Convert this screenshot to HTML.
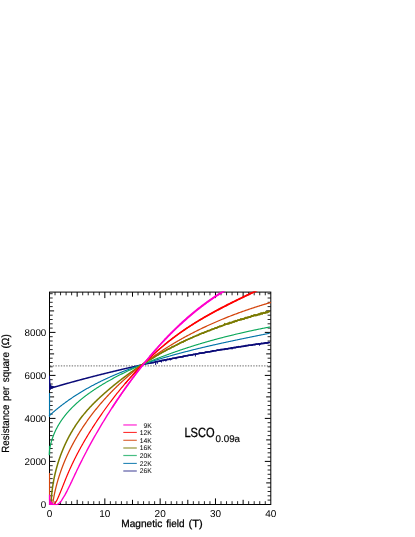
<!DOCTYPE html>
<html><head><meta charset="utf-8"><title>LSCO magnetoresistance</title>
<style>html,body{margin:0;padding:0;background:#fff;}body{width:415px;height:537px;overflow:hidden;font-family:"Liberation Sans",sans-serif;}svg{display:block;position:absolute;left:0;top:0;will-change:transform;}text{font-family:"Liberation Sans",sans-serif;fill:#000;}</style>
</head><body>
<svg width="415" height="537" viewBox="0 0 415 537">
<rect x="0" y="0" width="415" height="537" fill="#fff"/>
<defs><clipPath id="pc"><rect x="48.5" y="291.60" width="222.80" height="213.60"/></clipPath></defs>
<line x1="50.00" y1="365.9" x2="270.80" y2="365.9" stroke="#6a6a6a" stroke-width="1" stroke-dasharray="1.4 1.31"/>
<g stroke="#000" stroke-width="1" fill="none" shape-rendering="auto">
<rect x="49.50" y="292.10" width="221.30" height="212.40"/>
<path d="M77.16,504.40v-4.60M77.16,292.10v4.60M104.83,504.40v-6.00M104.83,292.10v6.00M132.49,504.40v-4.60M132.49,292.10v4.60M160.15,504.40v-6.00M160.15,292.10v6.00M187.81,504.40v-4.60M187.81,292.10v4.60M215.48,504.40v-6.00M215.48,292.10v6.00M243.14,504.40v-4.60M243.14,292.10v4.60M49.50,482.90h4.60M270.80,482.90h-4.60M49.50,461.40h6.00M270.80,461.40h-6.00M49.50,439.90h4.60M270.80,439.90h-4.60M49.50,418.40h6.00M270.80,418.40h-6.00M49.50,396.90h4.60M270.80,396.90h-4.60M49.50,375.40h6.00M270.80,375.40h-6.00M49.50,353.90h4.60M270.80,353.90h-4.60M49.50,332.40h6.00M270.80,332.40h-6.00M49.50,310.90h4.60M270.80,310.90h-4.60"/>
<path d="M55.03,504.40v-3.20M55.03,292.10v3.20M60.56,504.40v-3.20M60.56,292.10v3.20M66.10,504.40v-3.20M66.10,292.10v3.20M71.63,504.40v-3.20M71.63,292.10v3.20M82.70,504.40v-3.20M82.70,292.10v3.20M88.23,504.40v-3.20M88.23,292.10v3.20M93.76,504.40v-3.20M93.76,292.10v3.20M99.29,504.40v-3.20M99.29,292.10v3.20M110.36,504.40v-3.20M110.36,292.10v3.20M115.89,504.40v-3.20M115.89,292.10v3.20M121.42,504.40v-3.20M121.42,292.10v3.20M126.96,504.40v-3.20M126.96,292.10v3.20M138.02,504.40v-3.20M138.02,292.10v3.20M143.55,504.40v-3.20M143.55,292.10v3.20M149.09,504.40v-3.20M149.09,292.10v3.20M154.62,504.40v-3.20M154.62,292.10v3.20M165.68,504.40v-3.20M165.68,292.10v3.20M171.22,504.40v-3.20M171.22,292.10v3.20M176.75,504.40v-3.20M176.75,292.10v3.20M182.28,504.40v-3.20M182.28,292.10v3.20M193.35,504.40v-3.20M193.35,292.10v3.20M198.88,504.40v-3.20M198.88,292.10v3.20M204.41,504.40v-3.20M204.41,292.10v3.20M209.94,504.40v-3.20M209.94,292.10v3.20M221.01,504.40v-3.20M221.01,292.10v3.20M226.54,504.40v-3.20M226.54,292.10v3.20M232.07,504.40v-3.20M232.07,292.10v3.20M237.61,504.40v-3.20M237.61,292.10v3.20M248.67,504.40v-3.20M248.67,292.10v3.20M254.20,504.40v-3.20M254.20,292.10v3.20M259.74,504.40v-3.20M259.74,292.10v3.20M265.27,504.40v-3.20M265.27,292.10v3.20M49.50,500.10h3.20M270.80,500.10h-3.20M49.50,495.80h3.20M270.80,495.80h-3.20M49.50,491.50h3.20M270.80,491.50h-3.20M49.50,487.20h3.20M270.80,487.20h-3.20M49.50,478.60h3.20M270.80,478.60h-3.20M49.50,474.30h3.20M270.80,474.30h-3.20M49.50,470.00h3.20M270.80,470.00h-3.20M49.50,465.70h3.20M270.80,465.70h-3.20M49.50,457.10h3.20M270.80,457.10h-3.20M49.50,452.80h3.20M270.80,452.80h-3.20M49.50,448.50h3.20M270.80,448.50h-3.20M49.50,444.20h3.20M270.80,444.20h-3.20M49.50,435.60h3.20M270.80,435.60h-3.20M49.50,431.30h3.20M270.80,431.30h-3.20M49.50,427.00h3.20M270.80,427.00h-3.20M49.50,422.70h3.20M270.80,422.70h-3.20M49.50,414.10h3.20M270.80,414.10h-3.20M49.50,409.80h3.20M270.80,409.80h-3.20M49.50,405.50h3.20M270.80,405.50h-3.20M49.50,401.20h3.20M270.80,401.20h-3.20M49.50,392.60h3.20M270.80,392.60h-3.20M49.50,388.30h3.20M270.80,388.30h-3.20M49.50,384.00h3.20M270.80,384.00h-3.20M49.50,379.70h3.20M270.80,379.70h-3.20M49.50,371.10h3.20M270.80,371.10h-3.20M49.50,366.80h3.20M270.80,366.80h-3.20M49.50,362.50h3.20M270.80,362.50h-3.20M49.50,358.20h3.20M270.80,358.20h-3.20M49.50,349.60h3.20M270.80,349.60h-3.20M49.50,345.30h3.20M270.80,345.30h-3.20M49.50,341.00h3.20M270.80,341.00h-3.20M49.50,336.70h3.20M270.80,336.70h-3.20M49.50,328.10h3.20M270.80,328.10h-3.20M49.50,323.80h3.20M270.80,323.80h-3.20M49.50,319.50h3.20M270.80,319.50h-3.20M49.50,315.20h3.20M270.80,315.20h-3.20M49.50,306.60h3.20M270.80,306.60h-3.20M49.50,302.30h3.20M270.80,302.30h-3.20M49.50,298.00h3.20M270.80,298.00h-3.20M49.50,293.70h3.20M270.80,293.70h-3.20" stroke-width="0.85"/>
</g>
<g fill="none" stroke-linejoin="round" stroke-linecap="butt" clip-path="url(#pc)">
<path d="M49.67,388.44 L50.10,388.31 L50.54,388.18 L50.97,388.06 L51.41,387.93 L51.84,387.80 L52.27,387.68 L52.71,387.55 L53.14,387.43 L53.58,387.30 L54.01,387.17 L54.44,387.05 L54.88,386.92 L55.31,386.80 L55.75,386.67 L56.18,386.55 L56.61,386.42 L57.05,386.30 L57.48,386.17 L57.92,386.05 L58.35,385.92 L58.79,385.80 L59.22,385.67 L59.65,385.55 L60.09,385.43 L60.52,385.30 L60.96,385.18 L61.39,385.05 L61.83,384.93 L62.26,384.81 L62.70,384.69 L63.13,384.56 L63.57,384.44 L64.00,384.32 L64.44,384.20 L64.87,384.07 L65.31,383.95 L65.74,383.83 L66.18,383.71 L66.61,383.59 L67.05,383.46 L67.48,383.34 L67.92,383.22 L68.35,383.10 L68.79,382.98 L69.22,382.86 L69.66,382.74 L70.09,382.62 L70.53,382.50 L70.96,382.38 L71.40,382.26 L71.83,382.14 L72.27,382.02 L72.71,381.90 L73.14,381.78 L73.58,381.66 L74.01,381.54 L74.45,381.42 L74.88,381.31 L75.32,381.19 L75.76,381.07 L76.19,380.95 L76.63,380.83 L77.06,380.71 L77.50,380.60 L77.94,380.48 L78.37,380.36 L78.81,380.24 L79.24,380.13 L79.68,380.01 L80.12,379.89 L80.55,379.78 L80.99,379.66 L81.42,379.54 L81.86,379.43 L82.30,379.31 L82.73,379.19 L83.17,379.08 L83.61,378.96 L84.04,378.85 L84.48,378.73 L84.92,378.62 L85.35,378.50 L85.79,378.39 L86.23,378.27 L86.66,378.16 L87.10,378.04 L87.54,377.93 L87.97,377.81 L88.41,377.70 L88.85,377.58 L89.28,377.47 L89.72,377.36 L90.16,377.24 L90.60,377.13 L91.03,377.02 L91.47,376.90 L91.91,376.79 L92.34,376.68 L92.78,376.57 L93.22,376.45 L93.66,376.34 L94.09,376.23 L94.53,376.12 L94.97,376.00 L95.40,375.89 L95.84,375.78 L96.28,375.67 L96.72,375.56 L97.15,375.45 L97.59,375.34 L98.03,375.22 L98.47,375.11 L98.91,375.00 L99.34,374.89 L99.78,374.78 L100.22,374.67 L100.66,374.56 L101.09,374.45 L101.53,374.34 L101.97,374.23 L102.41,374.12 L102.85,374.01 L103.28,373.90 L103.72,373.80 L104.16,373.69 L104.60,373.58 L105.04,373.47 L105.47,373.36 L105.91,373.25 L106.35,373.14 L106.79,373.04 L107.23,372.93 L107.67,372.82 L108.10,372.71 L108.54,372.61 L108.98,372.50 L109.42,372.39 L109.86,372.28 L110.30,372.18 L110.74,372.07 L111.17,371.96 L111.61,371.86 L112.05,371.75 L112.49,371.65 L112.93,371.54 L113.37,371.43 L113.81,371.33 L114.25,371.22 L114.68,371.12 L115.12,371.01 L115.56,370.91 L116.00,370.80 L116.44,370.70 L116.88,370.59 L117.32,370.49 L117.76,370.38 L118.20,370.28 L118.64,370.17 L119.08,370.07 L119.51,369.97 L119.95,369.86 L120.39,369.76 L120.83,369.65 L121.27,369.55 L121.71,369.45 L122.15,369.35 L122.59,369.24 L123.03,369.14 L123.47,369.04 L123.91,368.93 L124.35,368.83 L124.79,368.73 L125.23,368.63 L125.67,368.53 L126.11,368.42 L126.55,368.32 L126.99,368.22 L127.43,368.12 L127.87,368.02 L128.31,367.92 L128.75,367.82 L129.19,367.72 L129.63,367.62 L130.07,367.51 L130.51,367.41 L130.95,367.31 L131.39,367.21 L131.83,367.11 L132.27,367.01 L132.71,366.91 L133.15,366.81 L133.59,366.72 L134.03,366.62 L134.47,366.52 L134.91,366.42 L135.35,366.32 L135.79,366.22 L136.23,366.12 L136.67,366.02 L137.11,365.93 L137.55,365.83 L137.99,365.73 L138.43,365.63 L138.87,365.53 L139.31,365.44 L139.75,365.34 L140.20,365.24 L140.64,365.14 L141.08,365.05 L141.52,364.95 L141.96,364.85 L142.40,364.76 L142.84,364.66 L143.28,364.56 L143.72,364.47 L144.16,364.37 L144.60,364.28 L145.05,364.18 L145.49,364.08 L145.93,363.99 L146.37,363.89 L146.81,363.80 L147.25,363.70 L147.69,363.61 L148.13,363.51 L148.58,363.42 L149.02,363.32 L149.46,363.23 L149.90,363.13 L150.34,363.04 L150.78,362.95 L151.22,362.85 L151.67,362.76 L152.11,362.66 L152.55,362.57 L152.99,362.48 L153.43,362.38 L153.87,362.29 L154.32,362.20 L154.76,362.11 L155.20,362.01 L155.64,361.92 L156.08,361.83 L156.52,361.74 L156.97,361.64 L157.41,361.55 L157.85,361.46 L158.29,361.37 L158.73,361.28 L159.18,361.19 L159.62,361.09 L160.06,361.00 L160.50,360.91 L160.94,360.82 L161.39,360.73 L161.83,360.64 L162.27,360.55 L162.71,360.46 L163.16,360.37 L163.60,360.28 L164.04,360.19 L164.48,360.10 L164.92,360.01 L165.37,359.92 L165.81,359.83 L166.25,359.74 L166.69,359.65 L167.14,359.56 L167.58,359.47 L168.02,359.38 L168.47,359.30 L168.91,359.21 L169.35,359.12 L169.79,359.03 L170.24,358.94 L170.68,358.85 L171.12,358.77 L171.56,358.68 L172.01,358.59 L172.45,358.50 L172.89,358.42 L173.34,358.33 L173.78,358.24 L174.22,358.16 L174.67,358.07 L175.11,357.98 L175.55,357.90 L175.99,357.81 L176.44,357.72 L176.88,357.64 L177.32,357.55 L177.77,357.46 L178.21,357.38 L178.65,357.29 L179.10,357.21 L179.54,357.12 L179.98,357.04 L180.43,356.95 L180.87,356.87 L181.31,356.78 L181.76,356.70 L182.20,356.61 L182.64,356.53 L183.09,356.44 L183.53,356.36 L183.98,356.28 L184.42,356.19 L184.86,356.11 L185.31,356.02 L185.75,355.94 L186.19,355.86 L186.64,355.77 L187.08,355.69 L187.53,355.61 L187.97,355.53 L188.41,355.44 L188.86,355.36 L189.30,355.28 L189.74,355.20 L190.19,355.11 L190.63,355.03 L191.08,354.95 L191.52,354.87 L191.97,354.79 L192.41,354.70 L192.85,354.62 L193.30,354.54 L193.74,354.46 L194.19,354.38 L194.63,354.30 L195.07,354.22 L195.52,354.14 L195.96,354.06 L196.41,353.98 L196.85,353.90 L197.30,353.82 L197.74,353.74 L198.19,353.66 L198.63,353.58 L199.07,353.50 L199.52,353.42 L199.96,353.34 L200.41,353.26 L200.85,353.18 L201.30,353.10 L201.74,353.02 L202.19,352.94 L202.63,352.86 L203.08,352.79 L203.52,352.71 L203.97,352.63 L204.41,352.55 L204.86,352.47 L205.30,352.39 L205.75,352.32 L206.19,352.24 L206.64,352.16 L207.08,352.08 L207.53,352.01 L207.97,351.93 L208.42,351.85 L208.86,351.78 L209.31,351.70 L209.75,351.62 L210.20,351.55 L210.64,351.47 L211.09,351.39 L211.53,351.32 L211.98,351.24 L212.42,351.17 L212.87,351.09 L213.31,351.01 L213.76,350.94 L214.20,350.86 L214.65,350.79 L215.09,350.71 L215.54,350.64 L215.99,350.56 L216.43,350.49 L216.88,350.41 L217.32,350.34 L217.77,350.27 L218.21,350.19 L218.66,350.12 L219.10,350.04 L219.55,349.97 L220.00,349.90 L220.44,349.82 L220.89,349.75 L221.33,349.68 L221.78,349.60 L222.23,349.53 L222.67,349.46 L223.12,349.38 L223.56,349.31 L224.01,349.24 L224.45,349.17 L224.90,349.09 L225.35,349.02 L225.79,348.95 L226.24,348.88 L226.69,348.81 L227.13,348.73 L227.58,348.66 L228.02,348.59 L228.47,348.52 L228.92,348.45 L229.36,348.38 L229.81,348.31 L230.25,348.24 L230.70,348.16 L231.15,348.09 L231.59,348.02 L232.04,347.95 L232.49,347.88 L232.93,347.81 L233.38,347.74 L233.83,347.67 L234.27,347.60 L234.72,347.53 L235.17,347.46 L235.61,347.39 L236.06,347.33 L236.51,347.26 L236.95,347.19 L237.40,347.12 L237.85,347.05 L238.29,346.98 L238.74,346.91 L239.19,346.84 L239.63,346.78 L240.08,346.71 L240.53,346.64 L240.97,346.57 L241.42,346.50 L241.87,346.44 L242.31,346.37 L242.76,346.30 L243.21,346.23 L243.65,346.17 L244.10,346.10 L244.55,346.03 L245.00,345.97 L245.44,345.90 L245.89,345.83 L246.34,345.77 L246.78,345.70 L247.23,345.63 L247.68,345.57 L248.12,345.50 L248.57,345.44 L249.02,345.37 L249.47,345.30 L249.91,345.24 L250.36,345.17 L250.81,345.11 L251.26,345.04 L251.70,344.98 L252.15,344.91 L252.60,344.85 L253.05,344.78 L253.49,344.72 L253.94,344.65 L254.39,344.59 L254.84,344.53 L255.28,344.46 L255.73,344.40 L256.18,344.33 L256.63,344.27 L257.07,344.21 L257.52,344.14 L257.97,344.08 L258.42,344.02 L258.86,343.95 L259.31,343.89 L259.76,343.83 L260.21,343.76 L260.66,343.70 L261.10,343.64 L261.55,343.58 L262.00,343.51 L262.45,343.45 L262.89,343.39 L263.34,343.33 L263.79,343.27 L264.24,343.20 L264.69,343.14 L265.13,343.08 L265.58,343.02 L266.03,342.96 L266.48,342.90 L266.93,342.84 L267.38,342.78 L267.82,342.71 L268.27,342.65 L268.72,342.59 L269.17,342.53 L269.62,342.47 L270.06,342.41" stroke="#0a0a78" stroke-width="1.50"/>
<path d="M150.00,362.77 L150.90,363.15 L151.80,362.68 L152.70,362.72 L153.60,362.73 L154.50,362.19 L155.40,361.97 L156.30,361.44 L157.20,361.41 L158.10,361.41 L159.00,361.36 L159.90,361.28 L160.80,360.76 L161.70,360.32 L162.60,360.31 L163.50,360.63 L164.40,359.89 L165.30,359.89 L166.20,360.10 L167.10,359.19 L168.00,359.47 L168.90,359.57 L169.80,358.81 L170.70,358.89 L171.60,359.00 L172.50,358.20 L173.40,358.34 L174.30,358.34 L175.20,358.10 L176.10,357.76 L177.00,357.38 L177.90,357.43 L178.80,357.16 L179.70,357.07 L180.60,356.81 L181.50,357.02 L182.40,356.79 L183.30,356.26 L184.20,356.29 L185.10,355.88 L186.00,355.86 L186.90,355.61 L187.80,355.68 L188.70,355.29 L189.60,355.19 L190.50,355.23 L191.40,354.82 L192.30,355.05 L193.20,354.30 L194.10,354.59 L195.00,354.17 L195.90,354.01 L196.80,354.01 L197.70,353.76 L198.60,353.51 L199.50,353.02 L200.40,352.93 L201.30,353.27 L202.20,352.96 L203.10,352.94 L204.00,352.99 L204.90,352.61 L205.80,351.95 L206.70,352.00 L207.60,352.07 L208.50,351.63 L209.40,352.06" stroke="#0a0a78" stroke-width="1.50"/>
<path d="M209.00,352.02 L209.90,351.81 L210.80,351.43 L211.70,351.49 L212.60,350.91 L213.50,350.87 L214.40,350.81 L215.30,350.82 L216.20,350.52 L217.10,350.16 L218.00,350.13 L218.90,349.97 L219.80,349.81 L220.70,349.58 L221.60,349.58 L222.50,349.45 L223.40,349.50 L224.30,349.37 L225.20,349.06 L226.10,348.88 L227.00,348.92 L227.90,348.84 L228.80,348.57 L229.70,348.50 L230.60,348.44 L231.50,347.76 L232.40,348.12 L233.30,347.62 L234.20,347.60 L235.10,347.65 L236.00,347.46 L236.90,346.98 L237.80,347.15 L238.70,346.66 L239.60,346.69 L240.50,346.83 L241.40,346.46 L242.30,346.43 L243.20,346.37 L244.10,346.29 L245.00,346.12 L245.90,345.53 L246.80,345.65 L247.70,345.54 L248.60,345.16 L249.50,345.32 L250.40,345.23 L251.30,345.23 L252.20,345.17 L253.10,344.55 L254.00,344.48 L254.90,344.61 L255.80,344.17 L256.70,344.09 L257.60,344.18 L258.50,343.81 L259.40,344.05 L260.30,343.97 L261.20,343.35 L262.10,343.52 L263.00,343.55 L263.90,343.54 L264.80,342.99 L265.70,342.81 L266.60,343.11 L267.50,343.00 L268.40,342.45 L269.30,342.48" stroke="#0a0a78" stroke-width="1.60"/>
<line x1="49.5" y1="393.0" x2="49.5" y2="417.0" stroke="#0072a8" stroke-width="1.2"/>
<path d="M48.88,416.07 L49.23,415.74 L49.59,415.41 L49.96,415.08 L50.32,414.75 L50.68,414.43 L51.04,414.11 L51.41,413.78 L51.77,413.46 L52.13,413.14 L52.50,412.82 L52.87,412.50 L53.23,412.18 L53.60,411.87 L53.97,411.55 L54.34,411.24 L54.71,410.92 L55.08,410.61 L55.45,410.30 L55.82,409.99 L56.19,409.68 L56.56,409.37 L56.94,409.07 L57.31,408.76 L57.68,408.46 L58.06,408.15 L58.43,407.85 L58.81,407.55 L59.19,407.25 L59.56,406.95 L59.94,406.65 L60.32,406.35 L60.70,406.06 L61.08,405.76 L61.46,405.47 L61.84,405.17 L62.22,404.88 L62.61,404.59 L62.99,404.30 L63.37,404.01 L63.76,403.72 L64.14,403.43 L64.53,403.15 L64.91,402.86 L65.30,402.58 L65.69,402.29 L66.07,402.01 L66.46,401.73 L66.85,401.45 L67.24,401.17 L67.63,400.89 L68.02,400.61 L68.41,400.34 L68.80,400.06 L69.19,399.78 L69.59,399.51 L69.98,399.24 L70.37,398.97 L70.77,398.70 L71.16,398.43 L71.56,398.16 L71.95,397.89 L72.35,397.62 L72.75,397.35 L73.15,397.09 L73.54,396.82 L73.94,396.56 L74.34,396.30 L74.74,396.04 L75.14,395.78 L75.54,395.52 L75.94,395.26 L76.34,395.00 L76.75,394.74 L77.15,394.49 L77.55,394.23 L77.96,393.98 L78.36,393.72 L78.77,393.47 L79.17,393.22 L79.58,392.97 L79.98,392.72 L80.39,392.47 L80.80,392.22 L81.21,391.97 L81.61,391.73 L82.02,391.48 L82.43,391.23 L82.84,390.99 L83.25,390.75 L83.66,390.51 L84.07,390.26 L84.49,390.02 L84.90,389.78 L85.31,389.54 L85.72,389.31 L86.14,389.07 L86.55,388.83 L86.96,388.60 L87.38,388.36 L87.80,388.13 L88.21,387.90 L88.63,387.66 L89.04,387.43 L89.46,387.20 L89.88,386.97 L90.30,386.74 L90.72,386.51 L91.13,386.29 L91.55,386.06 L91.97,385.84 L92.39,385.61 L92.81,385.39 L93.24,385.16 L93.66,384.94 L94.08,384.72 L94.50,384.50 L94.92,384.28 L95.35,384.06 L95.77,383.84 L96.19,383.62 L96.62,383.40 L97.04,383.19 L97.47,382.97 L97.89,382.76 L98.32,382.54 L98.75,382.33 L99.17,382.12 L99.60,381.90 L100.03,381.69 L100.46,381.48 L100.88,381.27 L101.31,381.06 L101.74,380.85 L102.17,380.65 L102.60,380.44 L103.03,380.23 L103.46,380.03 L103.89,379.82 L104.32,379.62 L104.76,379.42 L105.19,379.21 L105.62,379.01 L106.05,378.81 L106.49,378.61 L106.92,378.41 L107.35,378.21 L107.79,378.01 L108.22,377.81 L108.66,377.62 L109.09,377.42 L109.53,377.23 L109.96,377.03 L110.40,376.84 L110.84,376.64 L111.27,376.45 L111.71,376.26 L112.15,376.07 L112.59,375.87 L113.03,375.68 L113.46,375.49 L113.90,375.31 L114.34,375.12 L114.78,374.93 L115.22,374.74 L115.66,374.56 L116.10,374.37 L116.54,374.18 L116.98,374.00 L117.43,373.82 L117.87,373.63 L118.31,373.45 L118.75,373.27 L119.19,373.09 L119.64,372.90 L120.08,372.72 L120.52,372.54 L120.97,372.36 L121.41,372.19 L121.86,372.01 L122.30,371.83 L122.74,371.65 L123.19,371.48 L123.63,371.30 L124.08,371.13 L124.53,370.95 L124.97,370.78 L125.42,370.61 L125.87,370.43 L126.31,370.26 L126.76,370.09 L127.21,369.92 L127.65,369.75 L128.10,369.58 L128.55,369.41 L129.00,369.24 L129.45,369.07 L129.90,368.90 L130.35,368.74 L130.80,368.57 L131.24,368.40 L131.69,368.24 L132.14,368.07 L132.59,367.91 L133.05,367.74 L133.50,367.58 L133.95,367.42 L134.40,367.26 L134.85,367.09 L135.30,366.93 L135.75,366.77 L136.20,366.61 L136.66,366.45 L137.11,366.29 L137.56,366.13 L138.01,365.97 L138.47,365.82 L138.92,365.66 L139.37,365.50 L139.83,365.34 L140.28,365.19 L140.74,365.03 L141.19,364.88 L141.64,364.72 L142.10,364.57 L142.55,364.42 L143.01,364.26 L143.46,364.11 L143.92,363.96 L144.37,363.81 L144.83,363.65 L145.28,363.50 L145.74,363.35 L146.20,363.20 L146.65,363.05 L147.11,362.90 L147.57,362.75 L148.02,362.61 L148.48,362.46 L148.94,362.31 L149.39,362.16 L149.85,362.02 L150.31,361.87 L150.76,361.72 L151.22,361.58 L151.68,361.43 L152.14,361.29 L152.60,361.14 L153.05,361.00 L153.51,360.86 L153.97,360.71 L154.43,360.57 L154.89,360.43 L155.35,360.29 L155.80,360.15 L156.26,360.00 L156.72,359.86 L157.18,359.72 L157.64,359.58 L158.10,359.44 L158.56,359.30 L159.02,359.16 L159.48,359.03 L159.94,358.89 L160.40,358.75 L160.86,358.61 L161.32,358.47 L161.78,358.34 L162.24,358.20 L162.70,358.07 L163.16,357.93 L163.62,357.79 L164.08,357.66 L164.54,357.52 L165.00,357.39 L165.46,357.26 L165.92,357.12 L166.39,356.99 L166.85,356.86 L167.31,356.72 L167.77,356.59 L168.23,356.46 L168.69,356.33 L169.15,356.20 L169.62,356.07 L170.08,355.93 L170.54,355.80 L171.00,355.67 L171.46,355.54 L171.93,355.42 L172.39,355.29 L172.85,355.16 L173.31,355.03 L173.78,354.90 L174.24,354.77 L174.70,354.65 L175.16,354.52 L175.63,354.39 L176.09,354.27 L176.55,354.14 L177.02,354.01 L177.48,353.89 L177.94,353.76 L178.41,353.64 L178.87,353.51 L179.33,353.39 L179.80,353.27 L180.26,353.14 L180.72,353.02 L181.19,352.90 L181.65,352.77 L182.12,352.65 L182.58,352.53 L183.04,352.41 L183.51,352.28 L183.97,352.16 L184.44,352.04 L184.90,351.92 L185.36,351.80 L185.83,351.68 L186.29,351.56 L186.76,351.44 L187.22,351.32 L187.69,351.20 L188.15,351.08 L188.62,350.97 L189.08,350.85 L189.55,350.73 L190.01,350.61 L190.48,350.49 L190.94,350.38 L191.41,350.26 L191.87,350.14 L192.34,350.03 L192.80,349.91 L193.27,349.80 L193.73,349.68 L194.20,349.56 L194.67,349.45 L195.13,349.33 L195.60,349.22 L196.06,349.11 L196.53,348.99 L196.99,348.88 L197.46,348.76 L197.93,348.65 L198.39,348.54 L198.86,348.42 L199.32,348.31 L199.79,348.20 L200.26,348.09 L200.72,347.98 L201.19,347.86 L201.66,347.75 L202.12,347.64 L202.59,347.53 L203.05,347.42 L203.52,347.31 L203.99,347.20 L204.45,347.09 L204.92,346.98 L205.39,346.87 L205.85,346.76 L206.32,346.65 L206.79,346.54 L207.25,346.43 L207.72,346.32 L208.19,346.22 L208.65,346.11 L209.12,346.00 L209.59,345.89 L210.05,345.78 L210.52,345.68 L210.99,345.57 L211.46,345.46 L211.92,345.36 L212.39,345.25 L212.86,345.14 L213.32,345.04 L213.79,344.93 L214.26,344.83 L214.72,344.72 L215.19,344.62 L215.66,344.51 L216.13,344.41 L216.59,344.30 L217.06,344.20 L217.53,344.09 L217.99,343.99 L218.46,343.88 L218.93,343.78 L219.40,343.68 L219.86,343.57 L220.33,343.47 L220.80,343.37 L221.27,343.26 L221.73,343.16 L222.20,343.06 L222.67,342.96 L223.14,342.85 L223.60,342.75 L224.07,342.65 L224.54,342.55 L225.01,342.45 L225.47,342.35 L225.94,342.24 L226.41,342.14 L226.87,342.04 L227.34,341.94 L227.81,341.84 L228.28,341.74 L228.74,341.64 L229.21,341.54 L229.68,341.44 L230.15,341.34 L230.61,341.24 L231.08,341.14 L231.55,341.04 L232.02,340.94 L232.48,340.84 L232.95,340.74 L233.42,340.64 L233.89,340.54 L234.35,340.45 L234.82,340.35 L235.29,340.25 L235.75,340.15 L236.22,340.05 L236.69,339.95 L237.16,339.86 L237.62,339.76 L238.09,339.66 L238.56,339.56 L239.03,339.47 L239.49,339.37 L239.96,339.27 L240.43,339.17 L240.89,339.08 L241.36,338.98 L241.83,338.88 L242.30,338.79 L242.76,338.69 L243.23,338.59 L243.70,338.50 L244.16,338.40 L244.63,338.31 L245.10,338.21 L245.56,338.11 L246.03,338.02 L246.50,337.92 L246.97,337.83 L247.43,337.73 L247.90,337.63 L248.37,337.54 L248.83,337.44 L249.30,337.35 L249.77,337.25 L250.23,337.16 L250.70,337.06 L251.17,336.97 L251.63,336.87 L252.10,336.78 L252.57,336.68 L253.03,336.59 L253.50,336.50 L253.96,336.40 L254.43,336.31 L254.90,336.21 L255.36,336.12 L255.83,336.02 L256.30,335.93 L256.76,335.84 L257.23,335.74 L257.69,335.65 L258.16,335.55 L258.63,335.46 L259.09,335.37 L259.56,335.27 L260.02,335.18 L260.49,335.08 L260.95,334.99 L261.42,334.90 L261.89,334.80 L262.35,334.71 L262.82,334.62 L263.28,334.52 L263.75,334.43 L264.21,334.34 L264.68,334.24 L265.14,334.15 L265.61,334.06 L266.07,333.96 L266.54,333.87 L267.00,333.78 L267.47,333.69 L267.93,333.59 L268.40,333.50 L268.86,333.41 L269.33,333.31 L269.79,333.22" stroke="#0072a8" stroke-width="1.15"/>
<line x1="49.5" y1="446.0" x2="49.5" y2="455.0" stroke="#0aa85a" stroke-width="1.3"/>
<path d="M48.91,455.27 L48.96,454.69 L49.01,454.11 L49.07,453.53 L49.14,452.95 L49.20,452.38 L49.27,451.80 L49.35,451.23 L49.43,450.67 L49.52,450.10 L49.60,449.54 L49.70,448.98 L49.79,448.42 L49.90,447.86 L50.00,447.31 L50.11,446.76 L50.23,446.21 L50.34,445.66 L50.47,445.12 L50.59,444.57 L50.72,444.03 L50.86,443.50 L50.99,442.96 L51.14,442.43 L51.28,441.90 L51.43,441.37 L51.59,440.84 L51.74,440.32 L51.91,439.80 L52.07,439.28 L52.24,438.76 L52.41,438.25 L52.59,437.73 L52.77,437.22 L52.95,436.71 L53.14,436.21 L53.33,435.70 L53.53,435.20 L53.73,434.70 L53.93,434.20 L54.14,433.71 L54.35,433.21 L54.56,432.72 L54.77,432.23 L54.99,431.75 L55.22,431.26 L55.44,430.78 L55.67,430.30 L55.91,429.82 L56.14,429.34 L56.38,428.87 L56.63,428.39 L56.87,427.92 L57.12,427.46 L57.38,426.99 L57.63,426.52 L57.89,426.06 L58.16,425.60 L58.42,425.14 L58.69,424.69 L58.96,424.23 L59.24,423.78 L59.52,423.33 L59.80,422.88 L60.08,422.43 L60.37,421.99 L60.66,421.55 L60.95,421.11 L61.25,420.67 L61.55,420.23 L61.85,419.79 L62.15,419.36 L62.46,418.93 L62.77,418.50 L63.08,418.07 L63.40,417.65 L63.72,417.22 L64.04,416.80 L64.36,416.38 L64.69,415.96 L65.01,415.55 L65.35,415.13 L65.68,414.72 L66.02,414.31 L66.35,413.90 L66.70,413.49 L67.04,413.09 L67.39,412.68 L67.73,412.28 L68.09,411.88 L68.44,411.48 L68.80,411.08 L69.15,410.69 L69.51,410.30 L69.88,409.90 L70.24,409.51 L70.61,409.13 L70.98,408.74 L71.35,408.35 L71.72,407.97 L72.10,407.59 L72.48,407.21 L72.86,406.83 L73.24,406.46 L73.62,406.08 L74.01,405.71 L74.40,405.34 L74.79,404.97 L75.18,404.60 L75.58,404.23 L75.97,403.87 L76.37,403.50 L76.77,403.14 L77.17,402.78 L77.57,402.42 L77.98,402.06 L78.39,401.71 L78.79,401.35 L79.20,401.00 L79.62,400.65 L80.03,400.30 L80.45,399.95 L80.86,399.61 L81.28,399.26 L81.70,398.92 L82.12,398.57 L82.55,398.23 L82.97,397.89 L83.40,397.56 L83.82,397.22 L84.25,396.89 L84.68,396.55 L85.12,396.22 L85.55,395.89 L85.98,395.56 L86.42,395.23 L86.86,394.91 L87.29,394.58 L87.73,394.26 L88.17,393.94 L88.62,393.61 L89.06,393.30 L89.50,392.98 L89.95,392.66 L90.40,392.35 L90.84,392.03 L91.29,391.72 L91.74,391.41 L92.19,391.10 L92.64,390.79 L93.10,390.48 L93.55,390.17 L94.00,389.87 L94.46,389.56 L94.92,389.26 L95.37,388.96 L95.83,388.66 L96.29,388.36 L96.75,388.06 L97.21,387.77 L97.67,387.47 L98.13,387.18 L98.59,386.89 L99.06,386.59 L99.52,386.30 L99.98,386.02 L100.45,385.73 L100.91,385.44 L101.38,385.15 L101.84,384.87 L102.31,384.59 L102.78,384.30 L103.25,384.02 L103.71,383.74 L104.18,383.46 L104.65,383.19 L105.12,382.91 L105.59,382.63 L106.06,382.36 L106.54,382.09 L107.01,381.81 L107.48,381.54 L107.95,381.27 L108.43,381.00 L108.90,380.73 L109.38,380.47 L109.85,380.20 L110.33,379.94 L110.80,379.67 L111.28,379.41 L111.76,379.15 L112.23,378.89 L112.71,378.63 L113.19,378.37 L113.67,378.11 L114.15,377.85 L114.63,377.60 L115.11,377.34 L115.59,377.09 L116.07,376.83 L116.55,376.58 L117.03,376.33 L117.51,376.08 L118.00,375.83 L118.48,375.58 L118.96,375.34 L119.45,375.09 L119.93,374.84 L120.42,374.60 L120.90,374.35 L121.39,374.11 L121.87,373.87 L122.36,373.63 L122.85,373.39 L123.33,373.15 L123.82,372.91 L124.31,372.67 L124.80,372.44 L125.29,372.20 L125.77,371.96 L126.26,371.73 L126.75,371.50 L127.24,371.26 L127.73,371.03 L128.22,370.80 L128.72,370.57 L129.21,370.34 L129.70,370.11 L130.19,369.88 L130.68,369.66 L131.17,369.43 L131.67,369.20 L132.16,368.98 L132.65,368.75 L133.15,368.53 L133.64,368.31 L134.14,368.09 L134.63,367.86 L135.13,367.64 L135.62,367.42 L136.12,367.20 L136.61,366.99 L137.11,366.77 L137.61,366.55 L138.10,366.33 L138.60,366.12 L139.10,365.90 L139.59,365.69 L140.09,365.47 L140.59,365.26 L141.09,365.05 L141.59,364.84 L142.08,364.63 L142.58,364.41 L143.08,364.20 L143.58,363.99 L144.08,363.79 L144.58,363.58 L145.08,363.37 L145.58,363.16 L146.08,362.96 L146.58,362.75 L147.08,362.54 L147.58,362.34 L148.08,362.14 L148.58,361.93 L149.08,361.73 L149.59,361.53 L150.09,361.32 L150.59,361.12 L151.09,360.92 L151.59,360.72 L152.10,360.52 L152.60,360.32 L153.10,360.12 L153.60,359.92 L154.11,359.72 L154.61,359.53 L155.11,359.33 L155.62,359.13 L156.12,358.94 L156.62,358.74 L157.13,358.54 L157.63,358.35 L158.13,358.15 L158.64,357.96 L159.14,357.77 L159.65,357.57 L160.15,357.38 L160.65,357.19 L161.16,357.00 L161.66,356.81 L162.17,356.61 L162.67,356.42 L163.18,356.23 L163.68,356.04 L164.19,355.86 L164.70,355.67 L165.20,355.48 L165.71,355.29 L166.21,355.10 L166.72,354.92 L167.23,354.73 L167.73,354.55 L168.24,354.36 L168.75,354.18 L169.25,353.99 L169.76,353.81 L170.27,353.62 L170.77,353.44 L171.28,353.26 L171.79,353.08 L172.30,352.89 L172.80,352.71 L173.31,352.53 L173.82,352.35 L174.33,352.17 L174.84,351.99 L175.35,351.82 L175.86,351.64 L176.36,351.46 L176.87,351.28 L177.38,351.11 L177.89,350.93 L178.40,350.75 L178.91,350.58 L179.42,350.40 L179.93,350.23 L180.44,350.06 L180.95,349.88 L181.47,349.71 L181.98,349.54 L182.49,349.37 L183.00,349.19 L183.51,349.02 L184.02,348.85 L184.53,348.68 L185.05,348.51 L185.56,348.35 L186.07,348.18 L186.58,348.01 L187.10,347.84 L187.61,347.67 L188.12,347.51 L188.64,347.34 L189.15,347.18 L189.66,347.01 L190.18,346.85 L190.69,346.68 L191.21,346.52 L191.72,346.36 L192.24,346.20 L192.75,346.03 L193.27,345.87 L193.78,345.71 L194.30,345.55 L194.81,345.39 L195.33,345.23 L195.84,345.07 L196.36,344.91 L196.88,344.76 L197.39,344.60 L197.91,344.44 L198.43,344.28 L198.94,344.13 L199.46,343.97 L199.98,343.82 L200.49,343.66 L201.01,343.51 L201.53,343.35 L202.05,343.20 L202.57,343.05 L203.08,342.90 L203.60,342.74 L204.12,342.59 L204.64,342.44 L205.16,342.29 L205.68,342.14 L206.20,341.99 L206.72,341.84 L207.24,341.69 L207.76,341.55 L208.28,341.40 L208.80,341.25 L209.32,341.10 L209.84,340.96 L210.36,340.81 L210.88,340.66 L211.40,340.52 L211.92,340.38 L212.44,340.23 L212.96,340.09 L213.48,339.94 L214.01,339.80 L214.53,339.66 L215.05,339.52 L215.57,339.37 L216.09,339.23 L216.62,339.09 L217.14,338.95 L217.66,338.81 L218.18,338.67 L218.71,338.53 L219.23,338.40 L219.75,338.26 L220.28,338.12 L220.80,337.98 L221.32,337.85 L221.85,337.71 L222.37,337.57 L222.90,337.44 L223.42,337.30 L223.95,337.17 L224.47,337.03 L224.99,336.90 L225.52,336.77 L226.04,336.63 L226.57,336.50 L227.09,336.37 L227.62,336.24 L228.15,336.11 L228.67,335.98 L229.20,335.84 L229.72,335.71 L230.25,335.58 L230.78,335.46 L231.30,335.33 L231.83,335.20 L232.35,335.07 L232.88,334.94 L233.41,334.82 L233.93,334.69 L234.46,334.56 L234.99,334.44 L235.52,334.31 L236.04,334.18 L236.57,334.06 L237.10,333.94 L237.63,333.81 L238.16,333.69 L238.68,333.56 L239.21,333.44 L239.74,333.32 L240.27,333.20 L240.80,333.08 L241.33,332.95 L241.85,332.83 L242.38,332.71 L242.91,332.59 L243.44,332.47 L243.97,332.35 L244.50,332.23 L245.03,332.12 L245.56,332.00 L246.09,331.88 L246.62,331.76 L247.15,331.64 L247.68,331.53 L248.21,331.41 L248.74,331.30 L249.27,331.18 L249.80,331.06 L250.33,330.95 L250.86,330.83 L251.39,330.72 L251.92,330.61 L252.45,330.49 L252.99,330.38 L253.52,330.27 L254.05,330.16 L254.58,330.04 L255.11,329.93 L255.64,329.82 L256.17,329.71 L256.71,329.60 L257.24,329.49 L257.77,329.38 L258.30,329.27 L258.83,329.16 L259.37,329.05 L259.90,328.94 L260.43,328.84 L260.96,328.73 L261.50,328.62 L262.03,328.51 L262.56,328.41 L263.10,328.30 L263.63,328.19 L264.16,328.09 L264.70,327.98 L265.23,327.88 L265.76,327.77 L266.30,327.67 L266.83,327.56 L267.36,327.46 L267.90,327.36 L268.43,327.26 L268.97,327.15 L269.50,327.05 L270.03,326.95" stroke="#0aa85a" stroke-width="1.15"/>
<path d="M51.06,504.24 L51.08,503.62 L51.10,502.99 L51.13,502.37 L51.16,501.74 L51.19,501.11 L51.23,500.49 L51.27,499.86 L51.31,499.24 L51.35,498.61 L51.39,497.99 L51.44,497.36 L51.49,496.74 L51.54,496.11 L51.60,495.49 L51.65,494.86 L51.71,494.24 L51.78,493.61 L51.84,492.99 L51.91,492.36 L51.98,491.74 L52.05,491.12 L52.13,490.49 L52.20,489.87 L52.28,489.24 L52.37,488.62 L52.45,488.00 L52.54,487.38 L52.63,486.75 L52.72,486.13 L52.82,485.51 L52.91,484.89 L53.01,484.27 L53.12,483.65 L53.22,483.03 L53.33,482.41 L53.44,481.79 L53.55,481.17 L53.66,480.55 L53.78,479.93 L53.90,479.32 L54.02,478.70 L54.15,478.08 L54.27,477.47 L54.40,476.85 L54.54,476.23 L54.67,475.62 L54.81,475.01 L54.95,474.39 L55.09,473.78 L55.23,473.17 L55.38,472.55 L55.53,471.94 L55.68,471.33 L55.83,470.72 L55.99,470.11 L56.15,469.50 L56.31,468.89 L56.47,468.29 L56.64,467.68 L56.81,467.07 L56.98,466.47 L57.15,465.86 L57.33,465.26 L57.51,464.65 L57.69,464.05 L57.87,463.45 L58.06,462.85 L58.25,462.25 L58.44,461.65 L58.63,461.05 L58.82,460.45 L59.02,459.85 L59.22,459.26 L59.43,458.66 L59.63,458.07 L59.84,457.47 L60.05,456.88 L60.26,456.29 L60.48,455.70 L60.69,455.11 L60.91,454.52 L61.13,453.93 L61.36,453.34 L61.59,452.76 L61.81,452.17 L62.05,451.59 L62.28,451.00 L62.52,450.42 L62.76,449.84 L63.00,449.26 L63.24,448.68 L63.49,448.10 L63.74,447.52 L63.99,446.95 L64.24,446.37 L64.50,445.80 L64.75,445.23 L65.01,444.66 L65.28,444.09 L65.54,443.52 L65.81,442.95 L66.08,442.38 L66.35,441.82 L66.63,441.25 L66.90,440.69 L67.18,440.13 L67.46,439.57 L67.75,439.01 L68.04,438.45 L68.32,437.89 L68.62,437.34 L68.91,436.78 L69.21,436.23 L69.50,435.68 L69.81,435.13 L70.11,434.58 L70.41,434.03 L70.72,433.49 L71.03,432.94 L71.34,432.40 L71.66,431.86 L71.98,431.32 L72.30,430.78 L72.62,430.24 L72.94,429.70 L73.27,429.17 L73.60,428.64 L73.93,428.11 L74.26,427.58 L74.60,427.05 L74.94,426.52 L75.28,426.00 L75.62,425.47 L75.97,424.95 L76.32,424.43 L76.67,423.91 L77.02,423.39 L77.37,422.88 L77.73,422.36 L78.09,421.85 L78.45,421.34 L78.82,420.83 L79.18,420.32 L79.55,419.82 L79.92,419.32 L80.30,418.81 L80.67,418.31 L81.05,417.81 L81.43,417.32 L81.81,416.82 L82.20,416.33 L82.59,415.84 L82.98,415.35 L83.37,414.86 L83.76,414.37 L84.16,413.89 L84.56,413.41 L84.96,412.93 L85.36,412.45 L85.77,411.97 L86.18,411.50 L86.59,411.03 L87.00,410.55 L87.41,410.09 L87.83,409.62 L88.25,409.15 L88.67,408.69 L89.09,408.22 L89.51,407.76 L89.94,407.30 L90.37,406.85 L90.80,406.39 L91.23,405.94 L91.67,405.48 L92.10,405.03 L92.54,404.58 L92.98,404.13 L93.42,403.69 L93.86,403.24 L94.30,402.80 L94.75,402.35 L95.20,401.91 L95.65,401.47 L96.10,401.04 L96.55,400.60 L97.00,400.16 L97.45,399.73 L97.91,399.29 L98.37,398.86 L98.83,398.43 L99.28,398.00 L99.75,397.57 L100.21,397.15 L100.67,396.72 L101.13,396.30 L101.60,395.87 L102.07,395.45 L102.53,395.03 L103.00,394.61 L103.47,394.19 L103.94,393.77 L104.41,393.35 L104.89,392.94 L105.36,392.52 L105.83,392.11 L106.31,391.69 L106.78,391.28 L107.26,390.87 L107.74,390.46 L108.21,390.05 L108.69,389.64 L109.17,389.23 L109.65,388.82 L110.13,388.42 L110.61,388.01 L111.10,387.61 L111.58,387.21 L112.06,386.80 L112.55,386.40 L113.04,386.00 L113.52,385.60 L114.01,385.20 L114.50,384.81 L114.99,384.41 L115.47,384.02 L115.97,383.62 L116.46,383.23 L116.95,382.83 L117.44,382.44 L117.93,382.05 L118.43,381.66 L118.92,381.27 L119.42,380.88 L119.91,380.50 L120.41,380.11 L120.91,379.73 L121.41,379.34 L121.91,378.96 L122.41,378.58 L122.91,378.20 L123.41,377.82 L123.91,377.44 L124.41,377.06 L124.92,376.68 L125.42,376.30 L125.93,375.93 L126.43,375.55 L126.94,375.18 L127.44,374.81 L127.95,374.44 L128.46,374.07 L128.97,373.70 L129.48,373.33 L129.99,372.96 L130.50,372.59 L131.01,372.23 L131.52,371.86 L132.04,371.50 L132.55,371.14 L133.07,370.77 L133.58,370.41 L134.10,370.05 L134.61,369.70 L135.13,369.34 L135.65,368.98 L136.17,368.62 L136.69,368.27 L137.21,367.92 L137.73,367.56 L138.25,367.21 L138.77,366.86 L139.29,366.51 L139.81,366.16 L140.34,365.81 L140.86,365.47 L141.39,365.12 L141.91,364.78 L142.44,364.43 L142.97,364.09 L143.49,363.75 L144.02,363.41 L144.55,363.07 L145.08,362.73 L145.61,362.39 L146.14,362.05 L146.67,361.72 L147.20,361.38 L147.73,361.05 L148.27,360.71 L148.80,360.38 L149.33,360.05 L149.87,359.72 L150.40,359.39 L150.94,359.06 L151.48,358.74 L152.01,358.41 L152.55,358.09 L153.09,357.76 L153.63,357.44 L154.17,357.12 L154.71,356.80 L155.25,356.48 L155.79,356.16 L156.33,355.84 L156.87,355.52 L157.41,355.21 L157.96,354.89 L158.50,354.58 L159.05,354.26 L159.59,353.95 L160.14,353.64 L160.68,353.33 L161.23,353.02 L161.77,352.72 L162.32,352.41 L162.87,352.10 L163.42,351.80 L163.97,351.50 L164.52,351.19 L165.07,350.89 L165.62,350.59 L166.17,350.29 L166.72,349.99 L167.27,349.69 L167.83,349.40 L168.38,349.10 L168.93,348.81 L169.49,348.52 L170.04,348.22 L170.60,347.93 L171.15,347.64 L171.71,347.35 L172.27,347.06 L172.82,346.78 L173.38,346.49 L173.94,346.20 L174.50,345.92 L175.06,345.64 L175.62,345.35 L176.18,345.07 L176.74,344.79 L177.30,344.51 L177.86,344.23 L178.42,343.96 L178.98,343.68 L179.55,343.41 L180.11,343.13 L180.67,342.86 L181.24,342.58 L181.80,342.31 L182.37,342.04 L182.94,341.77 L183.50,341.50 L184.07,341.24 L184.63,340.97 L185.20,340.70 L185.77,340.44 L186.34,340.17 L186.91,339.91 L187.48,339.65 L188.05,339.39 L188.62,339.13 L189.19,338.87 L189.76,338.61 L190.33,338.35 L190.90,338.10 L191.47,337.84 L192.05,337.59 L192.62,337.33 L193.19,337.08 L193.77,336.83 L194.34,336.58 L194.92,336.33 L195.49,336.08 L196.07,335.83 L196.64,335.58 L197.22,335.34 L197.80,335.09 L198.38,334.85 L198.95,334.60 L199.53,334.36 L200.11,334.12 L200.69,333.88 L201.27,333.64 L201.85,333.40 L202.43,333.16 L203.01,332.92 L203.59,332.69 L204.17,332.45 L204.75,332.22 L205.34,331.98 L205.92,331.75 L206.50,331.52 L207.08,331.28 L207.67,331.05 L208.25,330.82 L208.84,330.60 L209.42,330.37 L210.01,330.14 L210.59,329.91 L211.18,329.69 L211.76,329.47 L212.35,329.24 L212.94,329.02 L213.52,328.80 L214.11,328.58 L214.70,328.36 L215.29,328.14 L215.88,327.92 L216.47,327.70 L217.05,327.48 L217.64,327.27 L218.23,327.05 L218.82,326.84 L219.42,326.62 L220.01,326.41 L220.60,326.20 L221.19,325.99 L221.78,325.78 L222.37,325.57 L222.97,325.36 L223.56,325.15 L224.15,324.94 L224.75,324.74 L225.34,324.53 L225.93,324.33 L226.53,324.12 L227.12,323.92 L227.72,323.72 L228.31,323.52 L228.91,323.32 L229.51,323.12 L230.10,322.92 L230.70,322.72 L231.30,322.52 L231.89,322.32 L232.49,322.13 L233.09,321.93 L233.69,321.74 L234.29,321.54 L234.89,321.35 L235.48,321.16 L236.08,320.97 L236.68,320.78 L237.28,320.59 L237.88,320.40 L238.48,320.21 L239.08,320.02 L239.69,319.84 L240.29,319.65 L240.89,319.46 L241.49,319.28 L242.09,319.09 L242.69,318.91 L243.30,318.73 L243.90,318.55 L244.50,318.37 L245.11,318.19 L245.71,318.01 L246.31,317.83 L246.92,317.65 L247.52,317.47 L248.13,317.30 L248.73,317.12 L249.34,316.94 L249.94,316.77 L250.55,316.60 L251.15,316.42 L251.76,316.25 L252.37,316.08 L252.97,315.91 L253.58,315.74 L254.19,315.57 L254.79,315.40 L255.40,315.23 L256.01,315.06 L256.62,314.89 L257.22,314.73 L257.83,314.56 L258.44,314.40 L259.05,314.23 L259.66,314.07 L260.27,313.91 L260.88,313.75 L261.49,313.58 L262.10,313.42 L262.71,313.26 L263.32,313.10 L263.93,312.94 L264.54,312.79 L265.15,312.63 L265.76,312.47 L266.37,312.31 L266.98,312.16 L267.59,312.00 L268.20,311.85 L268.82,311.70 L269.43,311.54 L270.04,311.39" stroke="#7a7a00" stroke-width="1.50"/>
<path d="M150.00,359.79 L150.90,359.33 L151.80,358.31 L152.70,358.11 L153.60,357.67 L154.50,356.95 L155.40,356.15 L156.30,355.53 L157.20,355.18 L158.10,355.02 L159.00,353.97 L159.90,353.43 L160.80,353.17 L161.70,352.45 L162.60,352.01 L163.50,351.42 L164.40,351.27 L165.30,350.90 L166.20,350.22 L167.10,349.53 L168.00,349.19 L168.90,348.89 L169.80,348.66 L170.70,348.22 L171.60,347.23 L172.50,346.60 L173.40,346.71 L174.30,346.32 L175.20,345.54 L176.10,345.30 L177.00,344.92 L177.90,344.29 L178.80,344.03 L179.70,343.00 L180.60,342.73 L181.50,342.30 L182.40,341.76 L183.30,341.89 L184.20,340.85 L185.10,340.87 L186.00,340.03 L186.90,339.82 L187.80,339.44 L188.70,338.87 L189.60,338.70 L190.50,338.30 L191.40,337.75 L192.30,337.64 L193.20,336.84 L194.10,336.47 L195.00,336.19 L195.90,335.82 L196.80,335.31 L197.70,335.43 L198.60,334.98 L199.50,334.10" stroke="#7a7a00" stroke-width="1.50"/>
<path d="M199.00,334.47 L199.90,333.97 L200.80,333.79 L201.70,333.26 L202.60,333.09 L203.50,333.10 L204.40,332.25 L205.30,332.13 L206.20,331.72 L207.10,331.51 L208.00,330.53 L208.90,330.79 L209.80,330.62 L210.70,329.97 L211.60,329.34 L212.50,329.34 L213.40,329.03 L214.30,328.65 L215.20,327.85 L216.10,328.26 L217.00,327.91 L217.90,327.11 L218.80,326.93 L219.70,326.11 L220.60,326.64 L221.50,326.16 L222.40,325.68 L223.30,325.48 L224.20,324.65 L225.10,324.44 L226.00,324.08 L226.90,324.08 L227.80,323.32 L228.70,323.74 L229.60,323.05" stroke="#7a7a00" stroke-width="1.60"/>
<path d="M229.00,323.22 L229.90,322.51 L230.80,322.91 L231.70,322.77 L232.60,322.25 L233.50,321.49 L234.40,321.85 L235.30,320.79 L236.20,321.32 L237.10,320.74 L238.00,320.11 L238.90,320.10 L239.80,319.95 L240.70,319.23 L241.60,319.66 L242.50,318.88 L243.40,319.17 L244.30,318.83 L245.20,317.68 L246.10,318.07 L247.00,317.40 L247.90,317.67 L248.80,317.15 L249.70,316.79 L250.60,317.05 L251.50,315.79 L252.40,316.14 L253.30,315.61 L254.20,315.01 L255.10,315.62 L256.00,315.14 L256.90,315.29 L257.80,314.69 L258.70,314.13 L259.60,314.67 L260.50,313.38 L261.40,313.07 L262.30,313.65 L263.20,312.98 L264.10,312.73 L265.00,313.12 L265.90,312.23 L266.80,312.67 L267.70,312.15 L268.60,311.55 L269.50,311.00" stroke="#7a7a00" stroke-width="1.80"/>
<line x1="49.5" y1="473.0" x2="49.5" y2="500.0" stroke="#d4440c" stroke-width="1.2"/>
<path d="M52.60,504.45 L52.69,503.82 L52.79,503.19 L52.89,502.57 L52.98,501.94 L53.08,501.31 L53.19,500.68 L53.29,500.06 L53.40,499.43 L53.51,498.81 L53.62,498.18 L53.74,497.56 L53.86,496.93 L53.98,496.31 L54.10,495.69 L54.22,495.07 L54.35,494.45 L54.48,493.83 L54.61,493.21 L54.74,492.59 L54.87,491.97 L55.01,491.36 L55.15,490.74 L55.29,490.12 L55.44,489.51 L55.58,488.90 L55.73,488.28 L55.88,487.67 L56.03,487.06 L56.19,486.44 L56.35,485.83 L56.51,485.22 L56.67,484.61 L56.83,484.01 L57.00,483.40 L57.16,482.79 L57.33,482.18 L57.50,481.58 L57.68,480.97 L57.85,480.37 L58.03,479.77 L58.21,479.16 L58.40,478.56 L58.58,477.96 L58.77,477.36 L58.95,476.76 L59.14,476.16 L59.34,475.56 L59.53,474.96 L59.73,474.37 L59.93,473.77 L60.13,473.17 L60.33,472.58 L60.54,471.99 L60.74,471.39 L60.95,470.80 L61.16,470.21 L61.37,469.62 L61.59,469.03 L61.81,468.44 L62.02,467.85 L62.25,467.26 L62.47,466.68 L62.69,466.09 L62.92,465.51 L63.15,464.92 L63.38,464.34 L63.61,463.75 L63.84,463.17 L64.08,462.59 L64.32,462.01 L64.56,461.43 L64.80,460.85 L65.04,460.27 L65.29,459.70 L65.54,459.12 L65.78,458.55 L66.04,457.97 L66.29,457.40 L66.54,456.82 L66.80,456.25 L67.06,455.68 L67.32,455.11 L67.58,454.54 L67.84,453.97 L68.11,453.40 L68.38,452.84 L68.65,452.27 L68.92,451.71 L69.19,451.14 L69.46,450.58 L69.74,450.01 L70.02,449.45 L70.30,448.89 L70.58,448.33 L70.86,447.77 L71.15,447.21 L71.44,446.66 L71.72,446.10 L72.01,445.54 L72.31,444.99 L72.60,444.44 L72.89,443.88 L73.19,443.33 L73.49,442.78 L73.79,442.23 L74.09,441.68 L74.40,441.13 L74.70,440.58 L75.01,440.04 L75.32,439.49 L75.63,438.95 L75.94,438.40 L76.25,437.86 L76.57,437.32 L76.88,436.78 L77.20,436.24 L77.52,435.70 L77.84,435.16 L78.17,434.62 L78.49,434.08 L78.82,433.55 L79.14,433.01 L79.47,432.48 L79.80,431.95 L80.14,431.42 L80.47,430.89 L80.81,430.36 L81.14,429.83 L81.48,429.30 L81.82,428.77 L82.16,428.25 L82.51,427.72 L82.85,427.20 L83.20,426.67 L83.54,426.15 L83.89,425.63 L84.24,425.11 L84.60,424.59 L84.95,424.07 L85.30,423.56 L85.66,423.04 L86.02,422.53 L86.38,422.01 L86.74,421.50 L87.10,420.99 L87.46,420.48 L87.83,419.97 L88.19,419.46 L88.56,418.95 L88.93,418.44 L89.30,417.94 L89.67,417.43 L90.04,416.93 L90.42,416.42 L90.79,415.92 L91.17,415.42 L91.55,414.92 L91.93,414.42 L92.31,413.92 L92.69,413.43 L93.08,412.93 L93.46,412.44 L93.85,411.94 L94.24,411.45 L94.63,410.96 L95.02,410.47 L95.41,409.98 L95.80,409.49 L96.20,409.00 L96.59,408.51 L96.99,408.03 L97.39,407.54 L97.79,407.06 L98.19,406.57 L98.59,406.09 L99.00,405.61 L99.40,405.13 L99.81,404.65 L100.21,404.17 L100.62,403.70 L101.03,403.22 L101.44,402.75 L101.86,402.27 L102.27,401.80 L102.68,401.33 L103.10,400.86 L103.52,400.39 L103.94,399.92 L104.36,399.45 L104.78,398.98 L105.20,398.52 L105.62,398.05 L106.05,397.59 L106.47,397.13 L106.90,396.66 L107.33,396.20 L107.76,395.74 L108.19,395.28 L108.62,394.83 L109.05,394.37 L109.48,393.91 L109.92,393.46 L110.36,393.01 L110.79,392.55 L111.23,392.10 L111.67,391.65 L112.11,391.20 L112.55,390.75 L113.00,390.30 L113.44,389.86 L113.89,389.41 L114.33,388.97 L114.78,388.52 L115.23,388.08 L115.68,387.64 L116.13,387.20 L116.58,386.76 L117.03,386.32 L117.49,385.88 L117.94,385.44 L118.40,385.01 L118.85,384.57 L119.31,384.14 L119.77,383.71 L120.23,383.28 L120.69,382.85 L121.15,382.42 L121.62,381.99 L122.08,381.56 L122.55,381.13 L123.01,380.71 L123.48,380.28 L123.95,379.86 L124.42,379.44 L124.89,379.02 L125.36,378.60 L125.83,378.18 L126.30,377.76 L126.78,377.34 L127.25,376.92 L127.73,376.51 L128.21,376.09 L128.69,375.68 L129.16,375.27 L129.64,374.86 L130.12,374.45 L130.61,374.04 L131.09,373.63 L131.57,373.22 L132.06,372.82 L132.54,372.41 L133.03,372.01 L133.52,371.60 L134.00,371.20 L134.49,370.80 L134.98,370.40 L135.47,370.00 L135.97,369.60 L136.46,369.21 L136.95,368.81 L137.45,368.42 L137.94,368.02 L138.44,367.63 L138.93,367.24 L139.43,366.85 L139.93,366.46 L140.43,366.07 L140.93,365.68 L141.43,365.29 L141.93,364.91 L142.44,364.52 L142.94,364.14 L143.44,363.75 L143.95,363.37 L144.46,362.99 L144.96,362.61 L145.47,362.23 L145.98,361.86 L146.49,361.48 L147.00,361.10 L147.51,360.73 L148.02,360.36 L148.53,359.98 L149.04,359.61 L149.56,359.24 L150.07,358.87 L150.59,358.50 L151.10,358.14 L151.62,357.77 L152.14,357.40 L152.66,357.04 L153.17,356.68 L153.69,356.31 L154.21,355.95 L154.74,355.59 L155.26,355.23 L155.78,354.88 L156.30,354.52 L156.83,354.16 L157.35,353.81 L157.88,353.45 L158.40,353.10 L158.93,352.75 L159.45,352.40 L159.98,352.05 L160.51,351.70 L161.04,351.35 L161.57,351.00 L162.10,350.66 L162.63,350.31 L163.16,349.97 L163.69,349.63 L164.23,349.28 L164.76,348.94 L165.29,348.60 L165.83,348.26 L166.36,347.93 L166.90,347.59 L167.44,347.25 L167.97,346.92 L168.51,346.59 L169.05,346.25 L169.59,345.92 L170.13,345.59 L170.67,345.26 L171.21,344.93 L171.75,344.61 L172.29,344.28 L172.83,343.96 L173.38,343.63 L173.92,343.31 L174.46,342.99 L175.01,342.66 L175.55,342.34 L176.10,342.03 L176.64,341.71 L177.19,341.39 L177.73,341.07 L178.28,340.76 L178.83,340.45 L179.38,340.13 L179.93,339.82 L180.48,339.51 L181.03,339.20 L181.58,338.89 L182.13,338.58 L182.68,338.28 L183.23,337.97 L183.78,337.67 L184.33,337.36 L184.89,337.06 L185.44,336.76 L185.99,336.46 L186.55,336.16 L187.10,335.86 L187.66,335.56 L188.21,335.27 L188.77,334.97 L189.32,334.68 L189.88,334.38 L190.44,334.09 L190.99,333.80 L191.55,333.51 L192.11,333.22 L192.67,332.93 L193.23,332.65 L193.79,332.36 L194.35,332.07 L194.91,331.79 L195.47,331.51 L196.03,331.22 L196.59,330.94 L197.15,330.66 L197.72,330.38 L198.28,330.10 L198.84,329.83 L199.41,329.55 L199.97,329.28 L200.53,329.00 L201.10,328.73 L201.66,328.46 L202.23,328.18 L202.80,327.91 L203.36,327.64 L203.93,327.37 L204.50,327.11 L205.06,326.84 L205.63,326.57 L206.20,326.31 L206.77,326.05 L207.34,325.78 L207.91,325.52 L208.48,325.26 L209.05,325.00 L209.62,324.74 L210.19,324.48 L210.76,324.23 L211.33,323.97 L211.91,323.71 L212.48,323.46 L213.05,323.21 L213.63,322.95 L214.20,322.70 L214.77,322.45 L215.35,322.20 L215.92,321.95 L216.50,321.70 L217.08,321.46 L217.65,321.21 L218.23,320.96 L218.80,320.72 L219.38,320.48 L219.96,320.23 L220.54,319.99 L221.12,319.75 L221.69,319.51 L222.27,319.27 L222.85,319.03 L223.43,318.80 L224.01,318.56 L224.59,318.32 L225.17,318.09 L225.76,317.85 L226.34,317.62 L226.92,317.39 L227.50,317.16 L228.09,316.93 L228.67,316.70 L229.25,316.47 L229.84,316.24 L230.42,316.01 L231.00,315.79 L231.59,315.56 L232.17,315.34 L232.76,315.11 L233.35,314.89 L233.93,314.67 L234.52,314.45 L235.11,314.23 L235.69,314.01 L236.28,313.79 L236.87,313.57 L237.46,313.35 L238.05,313.14 L238.63,312.92 L239.22,312.71 L239.81,312.49 L240.40,312.28 L240.99,312.07 L241.58,311.86 L242.18,311.65 L242.77,311.44 L243.36,311.23 L243.95,311.02 L244.54,310.81 L245.14,310.61 L245.73,310.40 L246.32,310.20 L246.92,309.99 L247.51,309.79 L248.10,309.59 L248.70,309.39 L249.29,309.18 L249.89,308.98 L250.48,308.78 L251.08,308.59 L251.68,308.39 L252.27,308.19 L252.87,307.99 L253.47,307.80 L254.06,307.60 L254.66,307.41 L255.26,307.22 L255.86,307.02 L256.46,306.83 L257.06,306.64 L257.66,306.45 L258.26,306.26 L258.86,306.07 L259.46,305.88 L260.06,305.70 L260.66,305.51 L261.26,305.32 L261.86,305.14 L262.46,304.95 L263.06,304.77 L263.67,304.59 L264.27,304.40 L264.87,304.22 L265.47,304.04 L266.08,303.86 L266.68,303.68 L267.29,303.50 L267.89,303.33 L268.50,303.15 L269.10,302.97 L269.71,302.80 L270.31,302.62 L270.92,302.45" stroke="#d4440c" stroke-width="1.25"/>
<path d="M53.76,504.48 L54.19,504.06 L54.59,503.61 L54.97,503.15 L55.33,502.68 L55.67,502.19 L56.00,501.68 L56.32,501.17 L56.62,500.64 L56.91,500.10 L57.19,499.56 L57.46,499.00 L57.72,498.44 L57.97,497.88 L58.22,497.32 L58.47,496.75 L58.72,496.18 L58.96,495.61 L59.20,495.04 L59.44,494.47 L59.68,493.90 L59.92,493.33 L60.16,492.76 L60.39,492.18 L60.63,491.61 L60.86,491.04 L61.09,490.47 L61.32,489.89 L61.55,489.32 L61.78,488.75 L62.01,488.18 L62.24,487.60 L62.47,487.03 L62.70,486.46 L62.93,485.88 L63.15,485.31 L63.38,484.74 L63.61,484.16 L63.84,483.59 L64.07,483.02 L64.29,482.45 L64.52,481.87 L64.75,481.30 L64.98,480.73 L65.21,480.16 L65.44,479.59 L65.67,479.01 L65.90,478.44 L66.13,477.87 L66.37,477.30 L66.60,476.73 L66.84,476.17 L67.08,475.60 L67.31,475.03 L67.55,474.46 L67.80,473.90 L68.04,473.33 L68.28,472.76 L68.53,472.20 L68.77,471.63 L69.02,471.07 L69.27,470.51 L69.52,469.94 L69.77,469.38 L70.02,468.82 L70.28,468.26 L70.53,467.70 L70.79,467.14 L71.05,466.58 L71.31,466.02 L71.57,465.46 L71.83,464.90 L72.09,464.34 L72.36,463.79 L72.62,463.23 L72.89,462.67 L73.15,462.12 L73.42,461.56 L73.69,461.01 L73.97,460.46 L74.24,459.90 L74.51,459.35 L74.79,458.80 L75.06,458.25 L75.34,457.70 L75.62,457.15 L75.90,456.60 L76.18,456.05 L76.46,455.50 L76.74,454.95 L77.03,454.40 L77.31,453.85 L77.60,453.31 L77.89,452.76 L78.17,452.22 L78.46,451.67 L78.75,451.13 L79.05,450.58 L79.34,450.04 L79.63,449.49 L79.93,448.95 L80.22,448.41 L80.52,447.87 L80.82,447.33 L81.12,446.79 L81.42,446.25 L81.72,445.71 L82.02,445.17 L82.33,444.63 L82.63,444.09 L82.94,443.56 L83.24,443.02 L83.55,442.48 L83.86,441.95 L84.17,441.41 L84.48,440.88 L84.79,440.34 L85.10,439.81 L85.42,439.28 L85.73,438.75 L86.05,438.21 L86.36,437.68 L86.68,437.15 L87.00,436.62 L87.32,436.09 L87.64,435.56 L87.96,435.03 L88.28,434.50 L88.60,433.98 L88.92,433.45 L89.25,432.92 L89.57,432.40 L89.90,431.87 L90.23,431.34 L90.55,430.82 L90.88,430.30 L91.21,429.77 L91.54,429.25 L91.88,428.73 L92.21,428.20 L92.54,427.68 L92.87,427.16 L93.21,426.64 L93.54,426.12 L93.88,425.60 L94.22,425.08 L94.56,424.56 L94.89,424.04 L95.23,423.53 L95.57,423.01 L95.92,422.49 L96.26,421.98 L96.60,421.46 L96.94,420.95 L97.29,420.43 L97.63,419.92 L97.98,419.40 L98.32,418.89 L98.67,418.38 L99.02,417.87 L99.37,417.35 L99.72,416.84 L100.07,416.33 L100.42,415.82 L100.77,415.31 L101.12,414.80 L101.47,414.30 L101.83,413.79 L102.18,413.28 L102.54,412.77 L102.89,412.27 L103.25,411.76 L103.61,411.26 L103.96,410.75 L104.32,410.25 L104.68,409.75 L105.04,409.24 L105.41,408.74 L105.77,408.24 L106.13,407.74 L106.49,407.24 L106.86,406.74 L107.22,406.24 L107.59,405.74 L107.95,405.24 L108.32,404.74 L108.69,404.25 L109.06,403.75 L109.43,403.25 L109.80,402.76 L110.17,402.26 L110.54,401.77 L110.91,401.28 L111.29,400.78 L111.66,400.29 L112.04,399.80 L112.41,399.31 L112.79,398.82 L113.17,398.33 L113.54,397.84 L113.92,397.35 L114.30,396.86 L114.68,396.38 L115.06,395.89 L115.44,395.40 L115.83,394.92 L116.21,394.43 L116.59,393.95 L116.98,393.47 L117.36,392.99 L117.75,392.50 L118.14,392.02 L118.53,391.54 L118.91,391.06 L119.30,390.58 L119.69,390.10 L120.08,389.63 L120.48,389.15 L120.87,388.67 L121.26,388.20 L121.66,387.72 L122.05,387.25 L122.45,386.77 L122.84,386.30 L123.24,385.83 L123.64,385.36 L124.04,384.89 L124.44,384.42 L124.84,383.95 L125.24,383.48 L125.64,383.01 L126.04,382.54 L126.45,382.08 L126.85,381.61 L127.26,381.15 L127.66,380.68 L128.07,380.22 L128.48,379.76 L128.88,379.30 L129.29,378.83 L129.70,378.37 L130.11,377.91 L130.53,377.46 L130.94,377.00 L131.35,376.54 L131.76,376.08 L132.18,375.63 L132.59,375.17 L133.01,374.72 L133.43,374.27 L133.85,373.81 L134.26,373.36 L134.68,372.91 L135.10,372.46 L135.52,372.01 L135.95,371.56 L136.37,371.11 L136.79,370.67 L137.22,370.22 L137.64,369.78 L138.07,369.33 L138.49,368.89 L138.92,368.44 L139.35,368.00 L139.78,367.56 L140.21,367.12 L140.64,366.68 L141.07,366.24 L141.50,365.80 L141.93,365.37 L142.37,364.93 L142.80,364.50 L143.24,364.06 L143.68,363.63 L144.11,363.20 L144.55,362.76 L144.99,362.33 L145.43,361.90 L145.87,361.47 L146.31,361.04 L146.75,360.62 L147.19,360.19 L147.64,359.77 L148.08,359.34 L148.53,358.92 L148.97,358.49 L149.42,358.07 L149.87,357.65 L150.32,357.23 L150.77,356.81 L151.22,356.39 L151.67,355.97 L152.12,355.56 L152.57,355.14 L153.03,354.73 L153.48,354.31 L153.93,353.90 L154.39,353.49 L154.85,353.08 L155.30,352.67 L155.76,352.26 L156.22,351.85 L156.68,351.44 L157.14,351.04 L157.61,350.63 L158.07,350.23 L158.53,349.82 L159.00,349.42 L159.46,349.02 L159.93,348.62 L160.39,348.22 L160.86,347.82 L161.33,347.42 L161.80,347.03 L162.27,346.63 L162.74,346.24 L163.21,345.84 L163.68,345.45 L164.16,345.06 L164.63,344.67 L165.11,344.28 L165.58,343.89 L166.06,343.50 L166.54,343.11 L167.02,342.73 L167.49,342.34 L167.97,341.96 L168.46,341.58 L168.94,341.20 L169.42,340.82 L169.90,340.44 L170.39,340.06 L170.87,339.68 L171.36,339.30 L171.85,338.93 L172.33,338.56 L172.82,338.18 L173.31,337.81 L173.80,337.44 L174.29,337.07 L174.79,336.70 L175.28,336.33 L175.77,335.97 L176.27,335.60 L176.76,335.23 L177.26,334.87 L177.76,334.51 L178.25,334.15 L178.75,333.79 L179.25,333.43 L179.75,333.07 L180.26,332.71 L180.76,332.36 L181.26,332.00 L181.77,331.65 L182.27,331.30 L182.78,330.94 L183.28,330.59 L183.79,330.24 L184.30,329.90 L184.81,329.55 L185.32,329.20 L185.83,328.86 L186.34,328.52 L186.85,328.17 L187.37,327.83 L187.88,327.49 L188.40,327.15 L188.91,326.81 L189.43,326.48 L189.95,326.14 L190.46,325.80 L190.98,325.47 L191.50,325.14 L192.02,324.81 L192.54,324.47 L193.07,324.14 L193.59,323.82 L194.11,323.49 L194.64,323.16 L195.16,322.83 L195.69,322.51 L196.21,322.18 L196.74,321.86 L197.27,321.54 L197.79,321.22 L198.32,320.90 L198.85,320.58 L199.38,320.26 L199.91,319.94 L200.44,319.63 L200.98,319.31 L201.51,318.99 L202.04,318.68 L202.58,318.37 L203.11,318.06 L203.64,317.74 L204.18,317.43 L204.72,317.12 L205.25,316.81 L205.79,316.51 L206.33,316.20 L206.86,315.89 L207.40,315.59 L207.94,315.28 L208.48,314.98 L209.02,314.68 L209.56,314.37 L210.10,314.07 L210.64,313.77 L211.19,313.47 L211.73,313.17 L212.27,312.87 L212.81,312.58 L213.36,312.28 L213.90,311.98 L214.45,311.69 L214.99,311.39 L215.54,311.10 L216.08,310.80 L216.63,310.51 L217.17,310.22 L217.72,309.93 L218.27,309.64 L218.82,309.35 L219.36,309.06 L219.91,308.77 L220.46,308.48 L221.01,308.19 L221.56,307.91 L222.11,307.62 L222.66,307.33 L223.21,307.05 L223.76,306.76 L224.31,306.48 L224.86,306.20 L225.41,305.92 L225.96,305.63 L226.51,305.35 L227.06,305.07 L227.61,304.79 L228.16,304.51 L228.72,304.23 L229.27,303.95 L229.82,303.67 L230.37,303.40 L230.93,303.12 L231.48,302.84 L232.03,302.57 L232.59,302.29 L233.14,302.02 L233.69,301.74 L234.25,301.47 L234.80,301.19 L235.35,300.92 L235.91,300.65 L236.46,300.37 L237.02,300.10 L237.57,299.83 L238.12,299.56 L238.68,299.29 L239.23,299.02 L239.79,298.75 L240.34,298.48 L240.89,298.21 L241.45,297.94 L242.00,297.67 L242.56,297.40 L243.11,297.14 L243.67,296.87 L244.22,296.60 L244.77,296.33 L245.33,296.07 L245.88,295.80 L246.44,295.54 L246.99,295.27 L247.54,295.01 L248.10,294.74 L248.65,294.48 L249.20,294.21 L249.76,293.95 L250.31,293.68 L250.86,293.42 L251.42,293.16 L251.97,292.89 L252.52,292.63 L253.08,292.37 L253.63,292.11 L254.18,291.84 L254.73,291.58 L255.28,291.32 L255.84,291.06 L256.39,290.80 L256.94,290.54 L257.49,290.28 L258.04,290.01 L258.59,289.75 L259.14,289.49 L259.69,289.23 L260.24,288.97" stroke="#ff0000" stroke-width="1.20"/>
<path d="M125.00,383.76 L125.90,382.71 L126.80,381.67 L127.70,380.64 L128.60,379.62 L129.50,378.60 L130.40,377.60 L131.30,376.60 L132.20,375.60 L133.10,374.62 L134.00,373.65 L134.90,372.68 L135.80,371.72 L136.70,370.76 L137.60,369.82 L138.50,368.88 L139.40,367.95 L140.30,367.03 L141.20,366.11 L142.10,365.20 L143.00,364.30 L143.90,363.41 L144.80,362.52 L145.70,361.64 L146.60,360.76 L147.50,359.90 L148.40,359.04 L149.30,358.19 L150.20,357.34 L151.10,356.50 L152.00,355.67 L152.90,354.84 L153.80,354.02 L154.70,353.21 L155.60,352.40 L156.50,351.60 L157.40,350.81 L158.30,350.02 L159.20,349.24 L160.10,348.47 L161.00,347.70 L161.90,346.94 L162.80,346.19 L163.70,345.44 L164.60,344.69 L165.50,343.96" stroke="#ff0000" stroke-width="1.30"/>
<path d="M165.00,344.36 L165.90,343.63 L166.80,342.90 L167.70,342.18 L168.60,341.46 L169.50,340.75 L170.40,340.05 L171.30,339.35 L172.20,338.66 L173.10,337.97 L174.00,337.29 L174.90,336.62 L175.80,335.95 L176.70,335.28 L177.60,334.62 L178.50,333.97 L179.40,333.32 L180.30,332.68 L181.20,332.05 L182.10,331.41 L183.00,330.79 L183.90,330.17 L184.80,329.56" stroke="#ff0000" stroke-width="1.50"/>
<path d="M184.00,330.10 L184.90,329.49 L185.80,328.88 L186.70,328.28 L187.60,327.68 L188.50,327.08 L189.40,326.49 L190.30,325.91 L191.20,325.33 L192.10,324.76 L193.00,324.19 L193.90,323.62 L194.80,323.06 L195.70,322.50 L196.60,321.95 L197.50,321.40 L198.40,320.85 L199.30,320.31 L200.20,319.77 L201.10,319.24 L202.00,318.71 L202.90,318.18 L203.80,317.65 L204.70,317.13" stroke="#ff0000" stroke-width="1.65"/>
<path d="M204.00,317.54 L204.90,317.02 L205.80,316.50 L206.70,315.99 L207.60,315.48 L208.50,314.97 L209.40,314.46 L210.30,313.96 L211.20,313.46 L212.10,312.97 L213.00,312.47 L213.90,311.98 L214.80,311.50 L215.70,311.01 L216.60,310.53 L217.50,310.05 L218.40,309.57 L219.30,309.09 L220.20,308.62 L221.10,308.15 L222.00,307.68 L222.90,307.21 L223.80,306.74 L224.70,306.28 L225.60,305.82 L226.50,305.36 L227.40,304.90 L228.30,304.44 L229.20,303.99 L230.10,303.53 L231.00,303.08 L231.90,302.63 L232.80,302.18 L233.70,301.74 L234.60,301.29 L235.50,300.85 L236.40,300.40 L237.30,299.96 L238.20,299.52 L239.10,299.08 L240.00,298.64 L240.90,298.21 L241.80,297.77 L242.70,297.33 L243.60,296.90 L244.50,296.47 L245.40,296.03 L246.30,295.60 L247.20,295.17 L248.10,294.74 L249.00,294.31 L249.90,293.88 L250.80,293.45 L251.70,293.02 L252.60,292.59 L253.50,292.17 L254.40,291.74 L255.30,291.31 L256.20,290.89 L257.10,290.46 L258.00,290.03 L258.90,289.61 L259.80,289.18" stroke="#ff0000" stroke-width="1.85"/>
<path d="M49.50,504.20 L56.67,504.60 L57.20,504.39 L57.70,504.15 L58.18,503.87 L58.63,503.57 L59.06,503.24 L59.47,502.88 L59.86,502.50 L60.24,502.11 L60.59,501.69 L60.94,501.26 L61.27,500.81 L61.59,500.35 L61.91,499.89 L62.21,499.41 L62.51,498.93 L62.81,498.45 L63.11,497.97 L63.40,497.49 L63.69,497.00 L63.97,496.51 L64.26,496.02 L64.54,495.53 L64.82,495.04 L65.10,494.55 L65.37,494.05 L65.64,493.56 L65.91,493.06 L66.18,492.56 L66.45,492.06 L66.71,491.56 L66.98,491.06 L67.24,490.55 L67.50,490.05 L67.76,489.54 L68.01,489.04 L68.27,488.53 L68.52,488.02 L68.77,487.51 L69.02,487.00 L69.27,486.49 L69.52,485.98 L69.77,485.47 L70.02,484.96 L70.26,484.45 L70.51,483.93 L70.75,483.42 L71.00,482.90 L71.24,482.39 L71.48,481.87 L71.73,481.36 L71.97,480.84 L72.21,480.33 L72.45,479.81 L72.69,479.29 L72.93,478.78 L73.17,478.26 L73.41,477.75 L73.66,477.23 L73.90,476.71 L74.14,476.20 L74.38,475.68 L74.62,475.17 L74.87,474.65 L75.11,474.13 L75.35,473.62 L75.60,473.10 L75.84,472.59 L76.09,472.08 L76.33,471.56 L76.58,471.05 L76.83,470.53 L77.07,470.02 L77.32,469.51 L77.57,468.99 L77.82,468.48 L78.07,467.97 L78.32,467.46 L78.57,466.95 L78.82,466.43 L79.07,465.92 L79.32,465.41 L79.58,464.90 L79.83,464.39 L80.08,463.88 L80.34,463.37 L80.59,462.86 L80.84,462.35 L81.10,461.84 L81.36,461.33 L81.61,460.82 L81.87,460.31 L82.13,459.81 L82.38,459.30 L82.64,458.79 L82.90,458.28 L83.16,457.78 L83.42,457.27 L83.68,456.76 L83.94,456.26 L84.20,455.75 L84.47,455.24 L84.73,454.74 L84.99,454.23 L85.25,453.73 L85.52,453.22 L85.78,452.72 L86.05,452.21 L86.31,451.71 L86.58,451.21 L86.84,450.70 L87.11,450.20 L87.38,449.70 L87.65,449.19 L87.91,448.69 L88.18,448.19 L88.45,447.69 L88.72,447.19 L88.99,446.68 L89.26,446.18 L89.54,445.68 L89.81,445.18 L90.08,444.68 L90.35,444.18 L90.63,443.68 L90.90,443.18 L91.17,442.68 L91.45,442.18 L91.72,441.69 L92.00,441.19 L92.28,440.69 L92.55,440.19 L92.83,439.70 L93.11,439.20 L93.39,438.70 L93.66,438.20 L93.94,437.71 L94.22,437.21 L94.50,436.72 L94.78,436.22 L95.07,435.73 L95.35,435.23 L95.63,434.74 L95.91,434.24 L96.20,433.75 L96.48,433.26 L96.76,432.76 L97.05,432.27 L97.33,431.78 L97.62,431.28 L97.91,430.79 L98.19,430.30 L98.48,429.81 L98.77,429.32 L99.06,428.83 L99.34,428.34 L99.63,427.84 L99.92,427.35 L100.21,426.86 L100.50,426.38 L100.79,425.89 L101.09,425.40 L101.38,424.91 L101.67,424.42 L101.96,423.93 L102.26,423.44 L102.55,422.96 L102.85,422.47 L103.14,421.98 L103.44,421.50 L103.73,421.01 L104.03,420.53 L104.33,420.04 L104.62,419.55 L104.92,419.07 L105.22,418.58 L105.52,418.10 L105.82,417.62 L106.12,417.13 L106.42,416.65 L106.72,416.17 L107.02,415.68 L107.32,415.20 L107.63,414.72 L107.93,414.24 L108.23,413.76 L108.54,413.27 L108.84,412.79 L109.15,412.31 L109.45,411.83 L109.76,411.35 L110.06,410.87 L110.37,410.39 L110.68,409.92 L110.99,409.44 L111.29,408.96 L111.60,408.48 L111.91,408.00 L112.22,407.53 L112.53,407.05 L112.84,406.57 L113.15,406.10 L113.47,405.62 L113.78,405.14 L114.09,404.67 L114.40,404.19 L114.72,403.72 L115.03,403.24 L115.35,402.77 L115.66,402.30 L115.98,401.82 L116.29,401.35 L116.61,400.88 L116.93,400.40 L117.24,399.93 L117.56,399.46 L117.88,398.99 L118.20,398.52 L118.52,398.05 L118.84,397.58 L119.16,397.11 L119.48,396.64 L119.80,396.17 L120.12,395.70 L120.45,395.23 L120.77,394.76 L121.09,394.29 L121.42,393.82 L121.74,393.36 L122.07,392.89 L122.39,392.42 L122.72,391.96 L123.04,391.49 L123.37,391.03 L123.70,390.56 L124.03,390.10 L124.36,389.63 L124.68,389.17 L125.01,388.70 L125.34,388.24 L125.67,387.78 L126.00,387.31 L126.34,386.85 L126.67,386.39 L127.00,385.93 L127.33,385.46 L127.67,385.00 L128.00,384.54 L128.33,384.08 L128.67,383.62 L129.00,383.16 L129.34,382.70 L129.67,382.24 L130.01,381.78 L130.35,381.33 L130.69,380.87 L131.02,380.41 L131.36,379.95 L131.70,379.50 L132.04,379.04 L132.38,378.58 L132.72,378.13 L133.06,377.67 L133.40,377.22 L133.74,376.76 L134.09,376.31 L134.43,375.85 L134.77,375.40 L135.12,374.95 L135.46,374.49 L135.81,374.04 L136.15,373.59 L136.50,373.14 L136.84,372.68 L137.19,372.23 L137.54,371.78 L137.89,371.33 L138.23,370.88 L138.58,370.43 L138.93,369.98 L139.28,369.54 L139.63,369.09 L139.98,368.64 L140.33,368.19 L140.69,367.74 L141.04,367.30 L141.39,366.85 L141.75,366.41 L142.10,365.96 L142.45,365.52 L142.81,365.07 L143.16,364.63 L143.52,364.18 L143.88,363.74 L144.23,363.30 L144.59,362.86 L144.95,362.42 L145.31,361.97 L145.67,361.53 L146.03,361.09 L146.39,360.65 L146.75,360.21 L147.11,359.77 L147.47,359.34 L147.84,358.90 L148.20,358.46 L148.56,358.02 L148.93,357.59 L149.29,357.15 L149.66,356.72 L150.02,356.28 L150.39,355.85 L150.76,355.41 L151.12,354.98 L151.49,354.55 L151.86,354.12 L152.23,353.68 L152.60,353.25 L152.97,352.82 L153.34,352.39 L153.71,351.96 L154.09,351.53 L154.46,351.10 L154.83,350.68 L155.21,350.25 L155.58,349.82 L155.96,349.39 L156.33,348.97 L156.71,348.54 L157.09,348.12 L157.46,347.69 L157.84,347.27 L158.22,346.85 L158.60,346.43 L158.98,346.00 L159.36,345.58 L159.74,345.16 L160.12,344.74 L160.51,344.32 L160.89,343.90 L161.27,343.49 L161.66,343.07 L162.04,342.65 L162.43,342.23 L162.81,341.82 L163.20,341.40 L163.59,340.99 L163.98,340.57 L164.37,340.16 L164.75,339.75 L165.14,339.34 L165.54,338.92 L165.93,338.51 L166.32,338.10 L166.71,337.69 L167.10,337.29 L167.50,336.88 L167.89,336.47 L168.29,336.06 L168.68,335.66 L169.08,335.25 L169.48,334.85 L169.87,334.44 L170.27,334.04 L170.67,333.63 L171.07,333.23 L171.47,332.83 L171.87,332.43 L172.27,332.03 L172.68,331.63 L173.08,331.23 L173.48,330.83 L173.89,330.44 L174.29,330.04 L174.70,329.64 L175.10,329.25 L175.51,328.85 L175.92,328.46 L176.33,328.07 L176.74,327.67 L177.15,327.28 L177.56,326.89 L177.97,326.50 L178.38,326.11 L178.79,325.72 L179.21,325.33 L179.62,324.95 L180.03,324.56 L180.45,324.17 L180.87,323.79 L181.28,323.41 L181.70,323.02 L182.12,322.64 L182.54,322.26 L182.96,321.88 L183.38,321.50 L183.80,321.12 L184.22,320.74 L184.64,320.36 L185.06,319.98 L185.49,319.60 L185.91,319.23 L186.34,318.85 L186.76,318.48 L187.19,318.11 L187.62,317.73 L188.05,317.36 L188.48,316.99 L188.91,316.62 L189.34,316.25 L189.77,315.88 L190.20,315.52 L190.63,315.15 L191.06,314.78 L191.50,314.42 L191.93,314.05 L192.37,313.69 L192.81,313.33 L193.24,312.97 L193.68,312.60 L194.12,312.24 L194.56,311.89 L195.00,311.53 L195.44,311.17 L195.88,310.81 L196.32,310.46 L196.77,310.10 L197.21,309.75 L197.66,309.39 L198.10,309.04 L198.55,308.69 L198.99,308.34 L199.44,307.99 L199.89,307.64 L200.34,307.29 L200.79,306.95 L201.24,306.60 L201.69,306.26 L202.15,305.91 L202.60,305.57 L203.05,305.23 L203.51,304.88 L203.96,304.54 L204.42,304.20 L204.88,303.87 L205.34,303.53 L205.80,303.19 L206.26,302.86 L206.72,302.52 L207.18,302.19 L207.64,301.85 L208.10,301.52 L208.57,301.19 L209.03,300.86 L209.50,300.53 L209.96,300.20 L210.43,299.88 L210.90,299.55 L211.37,299.22 L211.84,298.90 L212.31,298.58 L212.78,298.25 L213.25,297.93 L213.72,297.61 L214.20,297.29 L214.67,296.97 L215.14,296.66 L215.62,296.34 L216.10,296.02 L216.58,295.71 L217.05,295.40 L217.53,295.08 L218.01,294.77 L218.50,294.46 L218.98,294.15 L219.46,293.84 L219.94,293.54 L220.43,293.23 L220.91,292.93 L221.40,292.62 L221.89,292.32 L222.38,292.02 L222.87,291.72 L223.36,291.42 L223.85,291.12 L224.34,290.82 L224.83,290.52 L225.32,290.23 L225.82,289.93 L226.31,289.64 L226.81,289.34 L227.31,289.05 L227.80,288.76 L228.30,288.47 L228.80,288.19 L229.30,287.90 L229.80,287.61 L230.30,287.33 L230.81,287.04 L231.31,286.76" stroke="#ff00cc" stroke-width="1.40"/>
<path d="M112.00,407.87 L112.90,406.48 L113.80,405.11 L114.70,403.74 L115.60,402.39 L116.50,401.04 L117.40,399.70 L118.30,398.37 L119.20,397.05 L120.10,395.73 L121.00,394.43 L121.90,393.13 L122.80,391.84 L123.70,390.56 L124.60,389.28 L125.50,388.02 L126.40,386.76 L127.30,385.51 L128.20,384.26 L129.10,383.03 L130.00,381.80 L130.90,380.58 L131.80,379.36 L132.70,378.15 L133.60,376.95 L134.50,375.76 L135.40,374.57 L136.30,373.39 L137.20,372.22 L138.10,371.06 L139.00,369.90 L139.90,368.75 L140.80,367.60 L141.70,366.46 L142.60,365.33 L143.50,364.21 L144.40,363.09 L145.30,361.99 L146.20,360.88 L147.10,359.79 L148.00,358.70 L148.90,357.62 L149.80,356.55 L150.70,355.48" stroke="#ff00cc" stroke-width="1.50"/>
<path d="M150.00,356.31 L150.90,355.25 L151.80,354.19 L152.70,353.14 L153.60,352.09 L154.50,351.06 L155.40,350.03 L156.30,349.01 L157.20,347.99 L158.10,346.98 L159.00,345.98 L159.90,344.99 L160.80,344.00 L161.70,343.02 L162.60,342.05 L163.50,341.08 L164.40,340.12 L165.30,339.17" stroke="#ff00cc" stroke-width="1.65"/>
<path d="M165.00,339.49 L165.90,338.54 L166.80,337.60 L167.70,336.67 L168.60,335.74 L169.50,334.82 L170.40,333.91 L171.30,333.00 L172.20,332.10 L173.10,331.21 L174.00,330.33 L174.90,329.45 L175.80,328.57 L176.70,327.71 L177.60,326.85 L178.50,326.00 L179.40,325.15 L180.30,324.31" stroke="#ff00cc" stroke-width="1.80"/>
<path d="M180.00,324.59 L180.90,323.76 L181.80,322.93 L182.70,322.11 L183.60,321.29 L184.50,320.48 L185.40,319.68 L186.30,318.89 L187.20,318.10 L188.10,317.32 L189.00,316.54 L189.90,315.77 L190.80,315.01 L191.70,314.25 L192.60,313.50 L193.50,312.75 L194.40,312.01 L195.30,311.28 L196.20,310.56 L197.10,309.84 L198.00,309.12 L198.90,308.41 L199.80,307.71 L200.70,307.02 L201.60,306.33 L202.50,305.64 L203.40,304.97 L204.30,304.29 L205.20,303.63 L206.10,302.97 L207.00,302.31 L207.90,301.67 L208.80,301.02 L209.70,300.39 L210.60,299.76 L211.50,299.13 L212.40,298.51 L213.30,297.90 L214.20,297.29 L215.10,296.69 L216.00,296.09 L216.90,295.50 L217.80,294.91 L218.70,294.33 L219.60,293.76 L220.50,293.19 L221.40,292.62 L222.30,292.06 L223.20,291.51 L224.10,290.96 L225.00,290.42 L225.90,289.88 L226.80,289.35 L227.70,288.82 L228.60,288.30 L229.50,287.78 L230.40,287.27 L231.30,286.77" stroke="#ff00cc" stroke-width="2.00"/>
<path d="M155.60,361.93v3.00M157.30,361.57v2.30M161.50,360.71v1.80M165.80,359.83v1.70M170.50,358.89v1.50M176.00,357.81v1.50M183.00,356.46v1.30M195.40,354.16v2.40M232.00,347.96v1.60M259.50,343.86v1.80" stroke="#0a0a78" stroke-width="1"/>
<path d="M224.60,324.79v-1.90M229.00,323.29v1.40M241.00,319.43v-1.40M247.00,317.63v1.50M255.00,315.34v-1.30M262.00,313.45v1.50M266.00,312.41v-1.60" stroke="#7a7a00" stroke-width="1"/>
<path d="M48.8,494.8 L50.2,494.8 L50.5,500.5 L53.2,503.4 L53.2,504.9 L48.8,504.9 Z" fill="#ff00cc" stroke="none"/>
<path d="M49.0,375.6 L49.9,375.6 L50.5,383.6 L51.2,385.4 L54.8,386.4 L52,387.6 L50.4,389.9 L49.0,389.9 Z" fill="#0a0a78" stroke="none"/>
</g>
<line x1="123.3" y1="424.95" x2="136.8" y2="424.95" stroke="#ff00cc" stroke-width="1.90" stroke-opacity="0.55"/>
<text transform="translate(151.90,427.60) skewX(0.05)" font-size="6.8" text-anchor="end">9K</text>
<line x1="123.3" y1="432.45" x2="136.8" y2="432.45" stroke="#ff0000" stroke-width="1.15" stroke-opacity="0.80"/>
<text transform="translate(151.90,435.20) skewX(0.05)" font-size="6.8" text-anchor="end">12K</text>
<line x1="123.3" y1="440.30" x2="136.8" y2="440.30" stroke="#d4440c" stroke-width="1.20" stroke-opacity="0.80"/>
<text transform="translate(151.90,442.80) skewX(0.05)" font-size="6.8" text-anchor="end">14K</text>
<line x1="123.3" y1="448.00" x2="136.8" y2="448.00" stroke="#7a7a00" stroke-width="1.90" stroke-opacity="0.50"/>
<text transform="translate(151.90,450.40) skewX(0.05)" font-size="6.8" text-anchor="end">16K</text>
<line x1="123.3" y1="455.50" x2="136.8" y2="455.50" stroke="#0aa85a" stroke-width="1.20" stroke-opacity="0.75"/>
<text transform="translate(151.90,458.00) skewX(0.05)" font-size="6.8" text-anchor="end">20K</text>
<line x1="123.3" y1="463.40" x2="136.8" y2="463.40" stroke="#0072a8" stroke-width="1.05" stroke-opacity="0.90"/>
<text transform="translate(151.90,465.60) skewX(0.05)" font-size="6.8" text-anchor="end">22K</text>
<line x1="123.3" y1="471.00" x2="136.8" y2="471.00" stroke="#0a0a78" stroke-width="2.00" stroke-opacity="0.40"/>
<text transform="translate(151.90,473.20) skewX(0.05)" font-size="6.8" text-anchor="end">26K</text>
<text transform="translate(46.30,507.90) skewX(0.05)" font-size="9.8" text-anchor="end">0</text>
<text transform="translate(46.30,464.90) skewX(0.05)" font-size="9.8" text-anchor="end">2000</text>
<text transform="translate(46.30,421.90) skewX(0.05)" font-size="9.8" text-anchor="end">4000</text>
<text transform="translate(46.30,378.90) skewX(0.05)" font-size="9.8" text-anchor="end">6000</text>
<text transform="translate(46.30,335.90) skewX(0.05)" font-size="9.8" text-anchor="end">8000</text>
<text transform="translate(49.50,516.50) skewX(0.05)" font-size="10" text-anchor="middle">0</text>
<text transform="translate(104.83,516.50) skewX(0.05)" font-size="10" text-anchor="middle">10</text>
<text transform="translate(160.15,516.50) skewX(0.05)" font-size="10" text-anchor="middle">20</text>
<text transform="translate(215.48,516.50) skewX(0.05)" font-size="10" text-anchor="middle">30</text>
<text transform="translate(270.80,516.50) skewX(0.05)" font-size="10" text-anchor="middle">40</text>
<text transform="translate(121.30,527.00) skewX(0.05)" font-size="10.4" text-anchor="start" stroke="#000" stroke-width="0.25" textLength="41.00" lengthAdjust="spacingAndGlyphs">Magnetic</text>
<text transform="translate(166.20,527.00) skewX(0.05)" font-size="10.4" text-anchor="start" stroke="#000" stroke-width="0.25" textLength="18.40" lengthAdjust="spacingAndGlyphs">field</text>
<text transform="translate(188.60,527.00) skewX(0.05)" font-size="10.4" text-anchor="start" stroke="#000" stroke-width="0.25" textLength="14.20" lengthAdjust="spacingAndGlyphs">(T)</text>
<text transform="translate(9.30,452.70) rotate(-90) skewX(0.05)" font-size="10.4" text-anchor="start" stroke="#000" stroke-width="0.20" textLength="48.00" lengthAdjust="spacingAndGlyphs">Resistance</text>
<text transform="translate(9.30,401.00) rotate(-90) skewX(0.05)" font-size="10.4" text-anchor="start" stroke="#000" stroke-width="0.20" textLength="14.40" lengthAdjust="spacingAndGlyphs">per</text>
<text transform="translate(9.30,382.30) rotate(-90) skewX(0.05)" font-size="10.4" text-anchor="start" stroke="#000" stroke-width="0.20" textLength="30.20" lengthAdjust="spacingAndGlyphs">square</text>
<text transform="translate(9.30,348.60) rotate(-90) skewX(0.05)" font-size="10.4" text-anchor="start" stroke="#000" stroke-width="0.20" textLength="14.40" lengthAdjust="spacingAndGlyphs">(Ω)</text>
<text transform="translate(184.40,436.90) skewX(0.05)" font-size="13.4" text-anchor="start" stroke="#000" stroke-width="0.30" textLength="30.20" lengthAdjust="spacingAndGlyphs">LSCO</text>
<text transform="translate(215.50,441.50) skewX(0.05)" font-size="9.8" text-anchor="start" stroke="#000" stroke-width="0.15" textLength="24.60" lengthAdjust="spacingAndGlyphs">0.09a</text>
</svg>
</body></html>
